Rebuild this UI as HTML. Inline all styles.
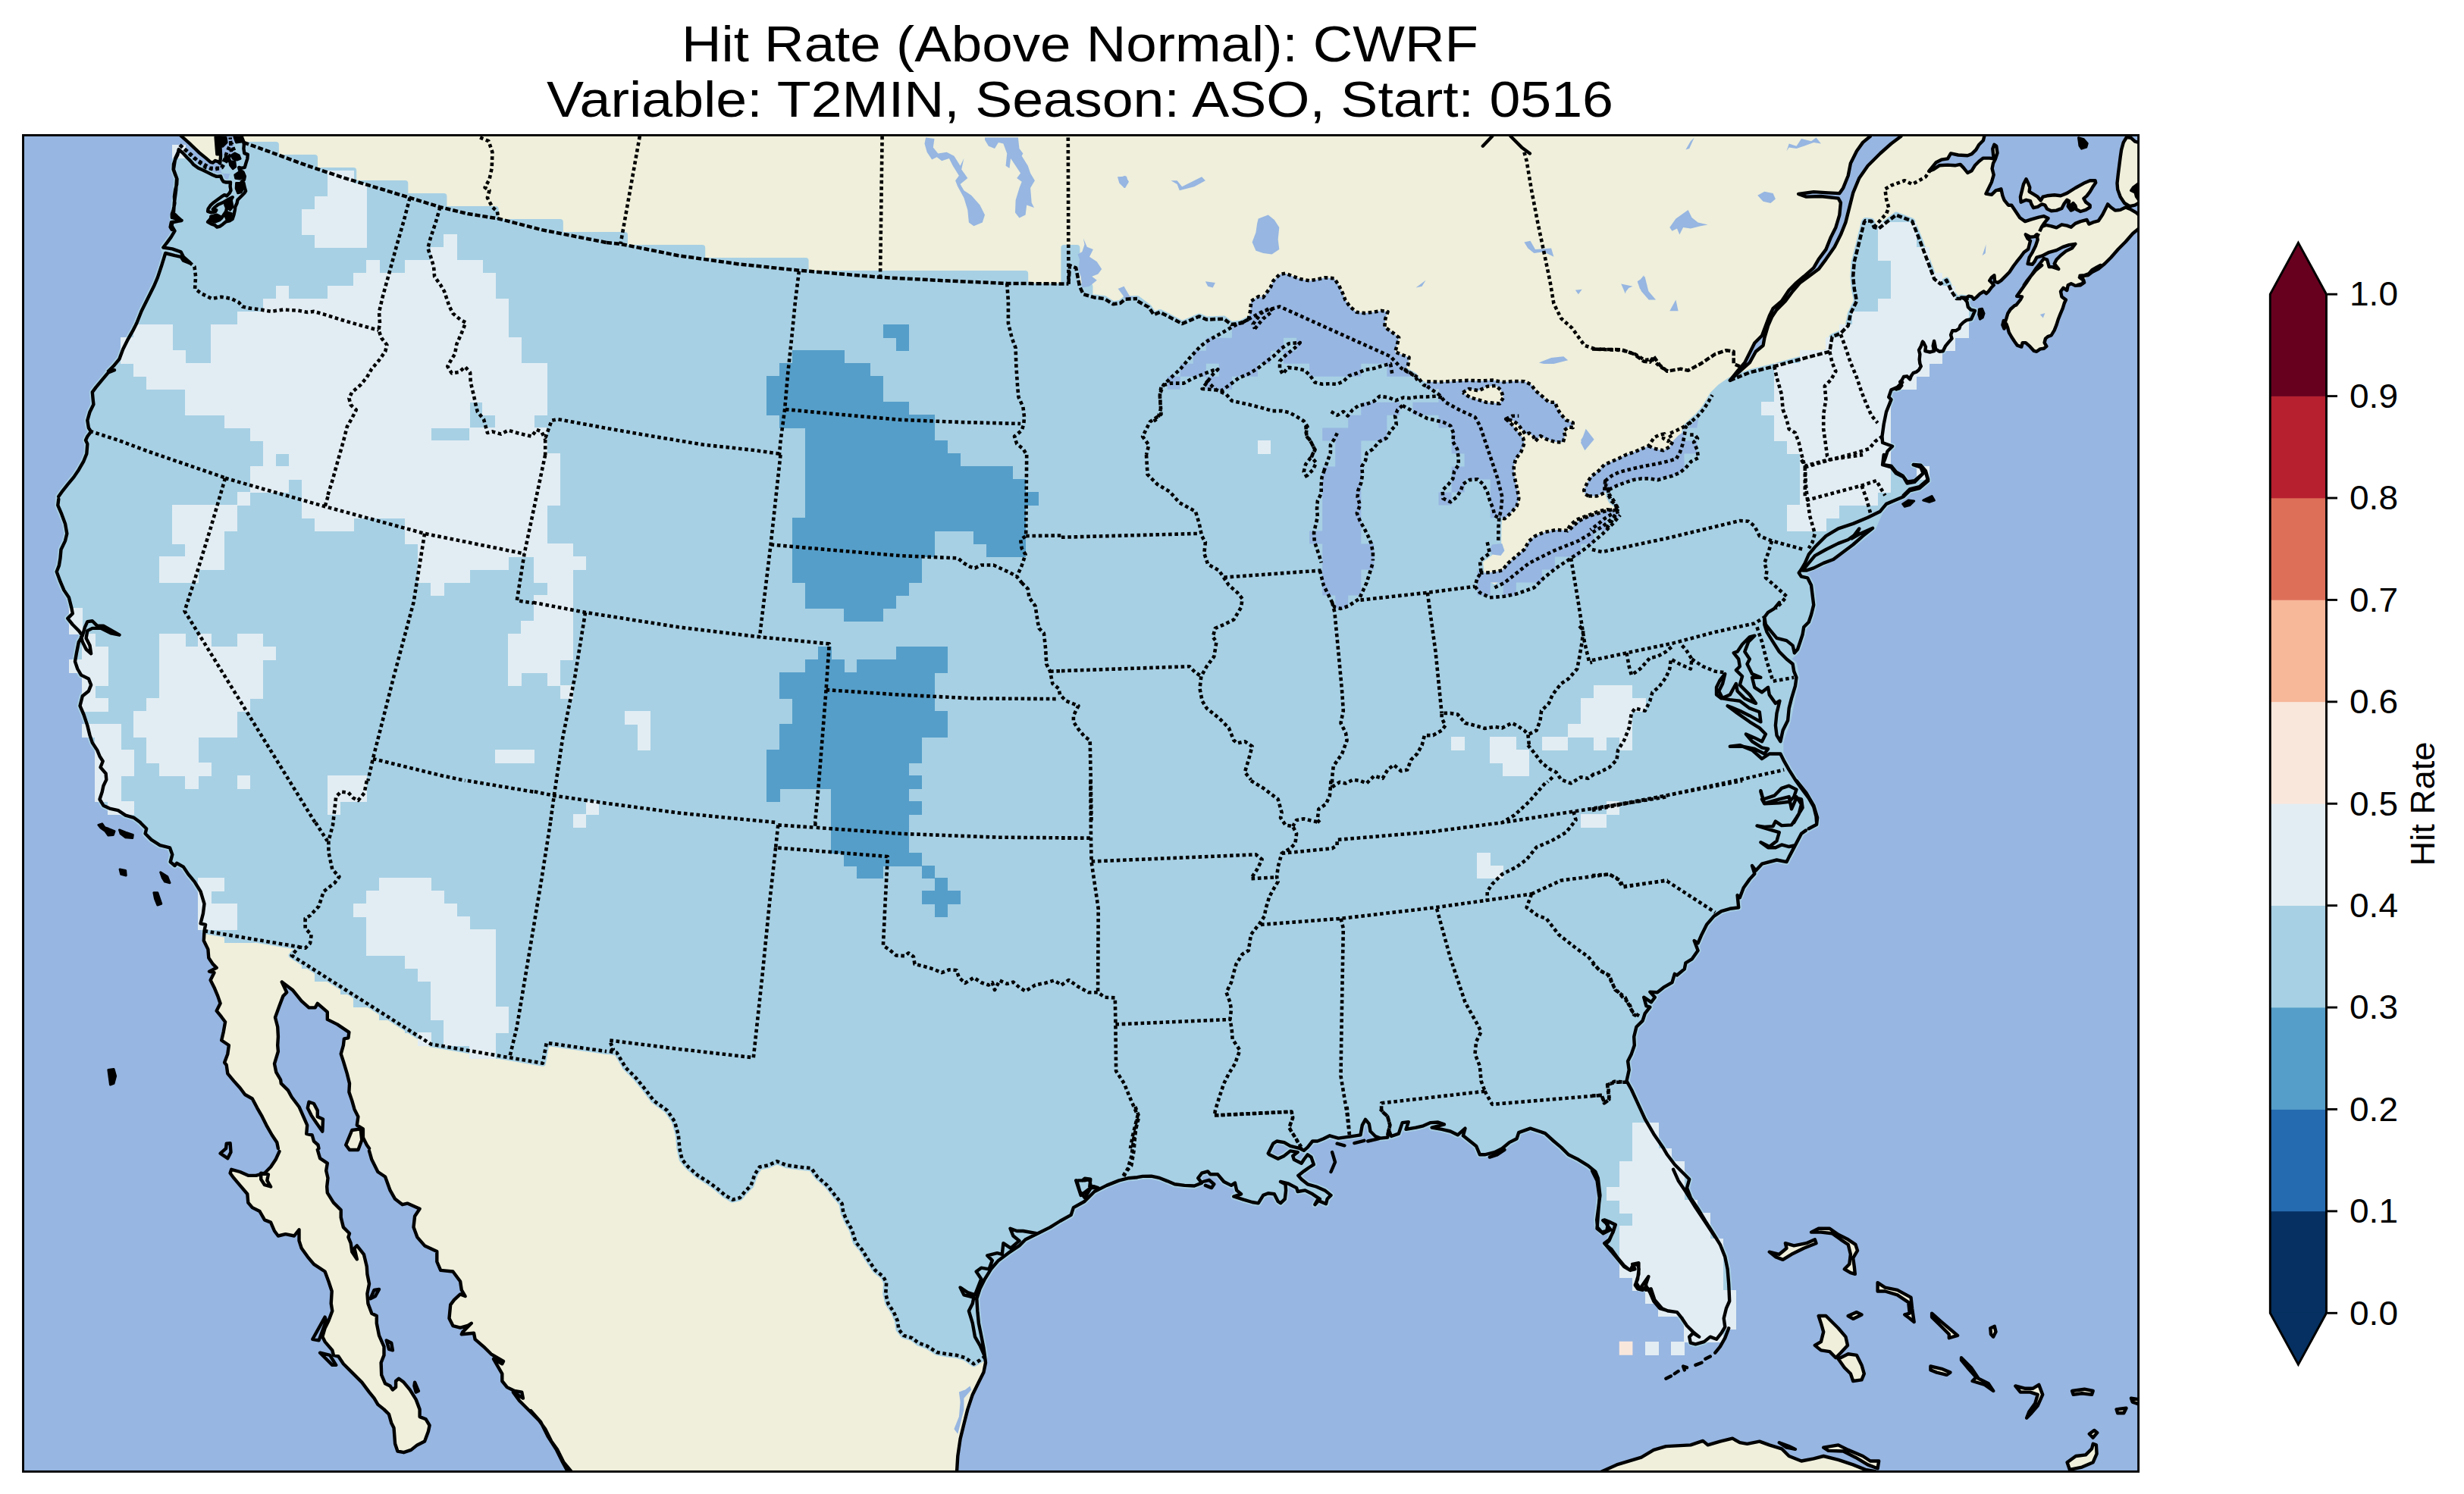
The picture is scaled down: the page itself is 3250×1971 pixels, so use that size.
<!DOCTYPE html>
<html><head><meta charset="utf-8"><title>Hit Rate (Above Normal): CWRF</title>
<style>
html,body{margin:0;padding:0;background:#fff;}
body{width:3250px;height:1971px;position:relative;overflow:hidden;font-family:"Liberation Sans",sans-serif;}
svg text{font-family:"Liberation Sans",sans-serif;fill:#000;}
</style></head><body>
<svg width="3250" height="1971" viewBox="0 0 3250 1971" style="position:absolute;left:0;top:0">
<defs><clipPath id="fr"><rect x="30.5" y="178.4" width="2790.1" height="1763.0"/></clipPath></defs>
<g clip-path="url(#fr)">
<rect x="0" y="0" width="3250" height="1971" fill="#97b6e1"/>
<path fill="#efefdb" fill-rule="evenodd" d="M2672.5 236.2 L2675.2 241.8 L2677.3 247.3 L2676.6 252.8 L2682.1 256.2 L2687.7 259.7 L2691.8 264.5 L2694.6 259.7 L2700.1 258.3 L2709.7 257.2 L2718.0 258.3 L2726.3 254.9 L2737.3 248.0 L2748.4 241.8 L2756.7 238.3 L2763.6 238.3 L2764.2 241.1 L2760.8 245.9 L2756.7 252.8 L2752.5 258.3 L2748.4 261.8 L2751.1 266.6 L2756.7 270.7 L2756.7 273.5 L2751.1 276.9 L2744.2 279.0 L2738.7 276.3 L2737.3 271.4 L2734.6 268.0 L2731.8 270.7 L2734.6 276.3 L2731.8 277.6 L2727.7 272.1 L2729.1 265.2 L2726.3 263.8 L2722.2 269.4 L2719.4 274.9 L2712.5 277.6 L2705.6 278.3 L2700.1 275.6 L2697.3 270.7 L2693.2 269.4 L2687.7 272.8 L2682.1 274.2 L2679.4 269.4 L2678.0 265.2 L2672.5 263.8 L2665.6 266.6 L2664.9 259.7 L2667.0 251.4 L2669.0 243.1Z M2805.0 181.0 L2800.8 187.9 L2798.1 197.6 L2796.7 207.3 L2795.3 218.3 L2793.9 229.3 L2792.5 241.8 L2793.2 250.0 L2796.7 259.7 L2802.2 268.0 L2809.1 272.1 L2816.0 270.7 L2822.9 266.6 L2822.9 188.6 L2816.0 186.6 L2810.5 181.7Z M407.5 1453.7 L414.0 1456.0 L418.8 1465.1 L418.8 1473.2 L426.0 1476.4 L425.3 1492.7 L417.2 1481.3 L410.7 1471.6 L405.8 1461.8Z M456.2 1510.5 L464.3 1491.0 L475.6 1489.4 L477.3 1504.0 L472.4 1517.0 L461.0 1517.0Z M2333.8 1651.6 L2346.8 1654.8 L2356.5 1646.7 L2354.9 1640.2 L2366.2 1643.4 L2382.5 1640.2 L2393.8 1635.3 L2395.5 1640.2 L2379.2 1646.7 L2363.0 1654.8 L2351.6 1661.9 L2341.9 1658.1Z M2389.0 1625.6 L2398.7 1620.7 L2413.3 1620.7 L2424.7 1628.8 L2437.7 1635.3 L2447.4 1641.8 L2450.0 1649.9 L2444.2 1659.7 L2445.8 1671.0 L2446.8 1680.8 L2440.9 1679.2 L2432.8 1674.3 L2439.3 1667.8 L2440.9 1654.8 L2437.7 1641.8 L2427.9 1635.3 L2416.6 1627.2 L2401.9 1625.6Z M2398.7 1736.0 L2408.4 1736.0 L2414.9 1742.5 L2424.7 1752.2 L2434.4 1763.6 L2437.0 1774.9 L2427.9 1784.7 L2421.4 1791.2 L2413.3 1783.1 L2401.9 1781.4 L2393.8 1774.9 L2401.9 1770.1 L2405.2 1757.1 L2401.9 1745.7Z M2424.7 1792.8 L2437.7 1786.3 L2449.0 1787.9 L2455.5 1800.9 L2458.8 1812.3 L2455.5 1820.4 L2444.2 1822.0 L2440.9 1812.3 L2432.8 1804.2Z M2476.6 1692.1 L2486.4 1698.6 L2502.6 1701.9 L2520.5 1711.6 L2522.1 1726.2 L2524.7 1744.1 L2518.8 1739.2 L2512.3 1734.4 L2518.8 1732.7 L2517.2 1718.1 L2502.6 1708.4 L2486.4 1703.5 L2476.6 1703.5Z M2548.1 1732.7 L2561.0 1744.1 L2572.4 1753.8 L2582.1 1761.9 L2570.8 1765.2 L2570.8 1760.3 L2557.8 1747.3 L2548.1 1737.6Z M2587.0 1791.2 L2600.0 1804.2 L2609.7 1818.8 L2622.7 1825.3 L2629.2 1835.0 L2617.9 1826.9 L2601.6 1822.0 L2606.5 1817.1 L2595.1 1804.2 L2587.0 1794.4Z M2546.4 1802.5 L2561.0 1805.8 L2572.4 1810.6 L2567.5 1813.9 L2554.5 1810.6 L2546.4 1807.4Z M2658.4 1828.5 L2671.4 1831.8 L2681.2 1831.8 L2689.3 1826.9 L2694.2 1839.9 L2687.7 1854.5 L2679.5 1864.2 L2673.1 1870.7 L2676.3 1862.6 L2684.4 1851.2 L2687.7 1839.9 L2677.9 1836.6 L2664.9 1836.6Z M2733.1 1835.0 L2749.4 1832.7 L2760.7 1835.0 L2759.1 1839.9 L2746.1 1838.2 L2734.7 1839.9Z M2625.3 1752.2 L2630.8 1749.9 L2632.5 1757.1 L2629.2 1763.6 L2626.0 1760.3Z M2437.7 1736.0 L2449.0 1731.1 L2455.5 1734.4 L2444.2 1739.9Z M2755.8 1891.8 L2762.3 1886.9 L2766.2 1890.2 L2760.7 1896.7Z M2791.6 1859.4 L2804.5 1857.7 L2801.3 1864.2 L2793.2 1864.2Z M2811.0 1844.7 L2822.4 1846.4 L2822.4 1852.9 L2812.7 1849.6Z M2726.6 1929.2 L2738.0 1921.0 L2751.0 1919.4 L2759.1 1911.3 L2760.7 1904.8 L2764.9 1906.4 L2765.6 1917.8 L2760.7 1929.2 L2746.1 1935.6 L2729.9 1938.9Z M2405.2 1909.7 L2424.7 1906.4 L2437.7 1912.9 L2457.1 1921.0 L2466.9 1927.5 L2478.2 1927.5 L2476.6 1937.3 L2463.6 1932.4 L2447.4 1922.7 L2431.2 1914.5 L2411.7 1913.9Z M2346.8 1903.2 L2359.7 1908.1 L2367.9 1911.9 L2356.5 1909.7Z M2106.5 1947.0 L2113.0 1941.2 L2132.5 1932.4 L2164.9 1922.7 L2181.2 1912.9 L2197.4 1908.1 L2229.9 1906.4 L2246.1 1900.9 L2252.6 1906.4 L2268.8 1901.6 L2285.1 1897.7 L2294.8 1903.2 L2304.5 1904.8 L2320.8 1901.6 L2333.8 1906.4 L2350.0 1911.3 L2359.7 1921.0 L2376.0 1927.5 L2392.2 1924.3 L2405.2 1921.0 L2424.7 1925.9 L2444.2 1932.4 L2460.4 1938.9 L2473.4 1941.2 L2489.6 1947.0Z M238.4 178.9 L250.0 189.2 L262.5 201.2 L271.4 208.4 L277.7 213.8 L280.8 214.6 L283.9 212.0 L287.9 213.3 L290.2 215.5 L291.1 205.7 L289.7 178.9Z M318.8 178.9 L319.6 191.2 L312.5 191.2 L312.5 207.9 L295.5 207.9 L295.5 224.9 L312.5 225.4 L306.2 232.5 L304.0 240.5 L298.2 240.5 L294.6 239.6 L291.1 232.5 L285.7 232.9 L280.4 230.7 L274.1 227.6 L267.9 224.5 L261.6 221.8 L255.4 217.3 L251.8 212.9 L246.4 207.5 L241.1 201.7 L235.7 197.2 L236.4 197.6 L231.2 209.0 L228.9 223.6 L233.1 234.9 L232.1 251.2 L229.9 267.4 L228.9 282.0 L227.3 286.9 L239.6 290.8 L227.3 293.4 L226.6 298.2 L230.5 304.7 L225.6 312.9 L220.8 319.4 L215.3 326.5 L218.2 334.0 L212.7 351.8 L207.8 366.4 L202.9 377.8 L194.8 394.0 L186.7 410.3 L180.2 426.5 L175.3 436.2 L168.8 447.6 L162.3 460.6 L157.5 473.6 L149.4 483.3 L142.9 489.8 L151.0 488.2 L142.9 491.4 L134.7 501.2 L126.6 510.9 L121.8 517.4 L122.7 527.1 L123.4 533.6 L118.5 543.4 L115.3 554.7 L116.9 564.5 L120.1 569.4 L115.3 575.8 L113.0 580.7 L115.3 585.6 L114.3 598.6 L110.4 608.3 L103.9 619.7 L97.4 629.4 L89.3 639.2 L82.8 647.3 L77.3 655.1 L77.3 658.4 L76.3 666.6 L81.2 677.9 L86.0 690.9 L88.3 703.9 L86.0 713.6 L80.5 725.0 L79.5 736.4 L77.9 746.1 L74.7 754.2 L79.5 767.2 L84.4 778.6 L90.9 788.3 L94.2 801.3 L95.8 809.4 L89.3 815.9 L95.8 824.0 L103.9 832.1 L108.8 838.6 L103.9 846.8 L101.3 859.7 L99.0 872.7 L102.3 882.5 L107.1 890.6 L116.9 895.5 L120.1 903.6 L116.9 911.7 L108.8 918.2 L105.5 931.2 L110.4 942.5 L115.3 957.1 L118.5 970.1 L121.8 979.9 L128.2 989.6 L131.5 997.7 L135.7 1004.2 L132.5 1012.3 L139.6 1020.5 L140.3 1028.6 L136.4 1036.7 L134.7 1044.8 L131.5 1054.5 L136.4 1062.7 L144.5 1066.6 L155.8 1069.2 L165.6 1075.6 L176.9 1078.9 L185.1 1085.1 L185.1 1085.2 L193.2 1093.3 L191.6 1099.8 L199.7 1107.9 L211.0 1115.1 L224.0 1118.3 L227.3 1127.4 L224.7 1137.1 L230.5 1142.0 L233.1 1138.8 L241.9 1143.6 L248.4 1153.4 L256.5 1163.1 L264.6 1176.1 L269.5 1192.3 L267.9 1205.3 L264.6 1218.3 L271.1 1219.9 L269.5 1228.1 L269.5 1228.1 L268.8 1241.0 L274.4 1252.4 L275.3 1263.8 L280.8 1271.9 L285.7 1276.8 L276.0 1281.6 L282.5 1283.2 L277.6 1293.0 L282.5 1302.7 L287.3 1314.1 L290.6 1323.8 L285.7 1333.6 L292.2 1341.7 L297.1 1348.2 L294.8 1361.2 L292.2 1372.5 L301.9 1379.0 L300.3 1390.4 L296.1 1401.8 L298.7 1405.0 L300.3 1416.4 L308.4 1426.1 L316.6 1435.2 L323.1 1444.0 L332.8 1449.5 L339.3 1461.8 L345.8 1473.2 L352.3 1486.2 L358.8 1497.5 L365.3 1507.3 L366.9 1515.1 L368.5 1519.1 L363.6 1529.8 L357.1 1539.5 L349.0 1547.7 L337.7 1550.9 L327.9 1550.9 L316.6 1546.0 L305.2 1542.8 L303.6 1547.7 L308.4 1554.2 L316.6 1563.9 L326.3 1575.3 L327.3 1586.6 L332.8 1593.1 L342.5 1598.0 L349.0 1609.4 L357.1 1612.6 L362.0 1624.0 L366.9 1630.5 L376.6 1628.2 L388.0 1630.5 L394.5 1622.3 L394.5 1636.9 L397.7 1646.7 L405.8 1658.1 L414.0 1667.8 L428.6 1677.5 L433.4 1690.5 L437.7 1703.5 L436.7 1719.7 L438.3 1729.5 L433.4 1742.5 L428.6 1752.2 L425.3 1763.6 L428.6 1770.1 L438.3 1781.4 L439.9 1787.9 L446.4 1789.5 L452.9 1799.3 L464.3 1810.6 L477.3 1823.6 L487.0 1836.6 L493.5 1844.7 L498.4 1852.9 L506.5 1859.4 L513.0 1865.8 L516.2 1877.2 L519.5 1883.7 L521.1 1904.8 L524.4 1914.5 L532.5 1916.2 L542.2 1912.9 L550.3 1906.4 L560.1 1901.6 L564.9 1888.6 L566.6 1880.5 L561.7 1872.3 L553.6 1869.1 L553.6 1859.4 L548.7 1846.4 L540.6 1833.4 L532.5 1823.6 L526.0 1818.8 L522.1 1822.0 L522.1 1830.1 L517.9 1833.4 L514.6 1828.5 L508.1 1825.3 L503.2 1813.9 L502.6 1797.7 L506.5 1787.9 L506.5 1776.6 L500.0 1761.9 L496.8 1745.7 L496.8 1736.0 L490.3 1732.7 L485.4 1719.7 L484.4 1706.8 L487.0 1693.8 L484.4 1680.8 L483.8 1671.0 L479.9 1654.8 L470.8 1643.4 L467.5 1646.7 L470.8 1661.3 L464.3 1651.6 L462.7 1640.2 L459.4 1632.1 L461.0 1627.2 L452.9 1619.1 L449.7 1606.1 L449.7 1596.4 L439.9 1586.6 L431.8 1573.6 L431.2 1565.5 L432.5 1554.2 L430.2 1544.4 L431.8 1534.7 L422.1 1528.2 L418.8 1516.8 L420.5 1515.1 L419.5 1510.5 L414.0 1505.6 L411.7 1497.5 L404.2 1495.9 L405.2 1484.5 L401.0 1474.8 L394.5 1460.2 L384.7 1447.2 L379.9 1438.4 L370.8 1429.4 L370.1 1424.5 L364.3 1414.7 L362.0 1403.4 L366.9 1387.1 L366.2 1379.0 L366.9 1367.7 L366.2 1354.7 L363.0 1342.3 L368.5 1327.1 L373.4 1314.1 L378.2 1309.2 L371.8 1295.6 L371.8 1295.6 L386.4 1306.6 L397.7 1320.6 L407.5 1329.4 L415.6 1329.4 L418.8 1323.8 L431.8 1335.2 L431.8 1344.9 L444.8 1351.4 L460.4 1361.8 L459.4 1369.3 L453.9 1370.3 L452.9 1379.0 L449.7 1390.4 L452.9 1400.1 L457.8 1416.4 L461.0 1429.4 L460.4 1440.7 L464.3 1452.1 L467.5 1463.4 L472.4 1473.2 L470.8 1484.5 L478.9 1489.4 L478.9 1500.8 L483.8 1510.5 L487.0 1515.1 L487.0 1518.4 L490.3 1529.8 L498.4 1546.0 L508.1 1552.5 L514.6 1570.4 L521.1 1581.8 L530.8 1589.2 L537.3 1587.6 L553.6 1594.7 L547.1 1604.5 L545.5 1619.1 L550.3 1632.1 L560.1 1643.4 L576.3 1650.9 L576.3 1664.5 L581.2 1675.9 L597.4 1677.5 L607.1 1690.5 L608.8 1701.9 L613.6 1710.0 L607.1 1707.4 L599.0 1714.9 L594.2 1721.4 L592.5 1739.2 L597.4 1749.0 L607.1 1751.6 L616.9 1749.0 L621.8 1745.7 L610.4 1757.1 L608.8 1760.3 L625.0 1758.7 L626.6 1766.8 L639.6 1778.2 L647.7 1786.3 L664.0 1796.0 L662.3 1799.3 L651.0 1792.8 L657.5 1804.2 L662.3 1812.3 L662.3 1822.0 L668.8 1830.1 L678.6 1835.0 L688.3 1836.6 L689.9 1844.7 L676.9 1836.6 L685.1 1848.0 L698.1 1861.0 L711.0 1874.0 L719.2 1885.3 L727.3 1901.6 L735.4 1912.9 L743.5 1929.2 L751.6 1938.9 L758.1 1947.0 L758.0 1952.0 L1262.0 1952.0 L1261.7 1947.0 L1263.3 1921.0 L1266.6 1898.3 L1271.4 1878.8 L1276.3 1859.4 L1282.8 1839.9 L1290.9 1823.6 L1297.4 1810.6 L1300.0 1797.7 L1299.0 1789.5 L1299.0 1789.5 L1297.4 1778.2 L1294.2 1761.9 L1290.9 1745.7 L1289.3 1729.5 L1288.3 1713.2 L1292.5 1700.3 L1299.0 1687.3 L1307.1 1674.3 L1316.9 1662.9 L1329.9 1653.2 L1344.5 1643.4 L1352.6 1635.3 L1368.8 1627.2 L1385.1 1619.1 L1398.1 1611.0 L1412.7 1602.9 L1415.9 1593.1 L1430.5 1585.0 L1443.5 1572.0 L1459.7 1563.9 L1476.0 1557.4 L1489.0 1554.2 L1500.0 1553.2 L1500.0 1553.2 L1507.1 1551.9 L1518.5 1551.6 L1529.9 1554.2 L1539.6 1558.1 L1549.4 1562.3 L1562.3 1563.9 L1575.3 1564.5 L1585.1 1560.6 L1580.2 1554.2 L1585.1 1547.7 L1593.2 1545.4 L1596.4 1549.3 L1606.2 1549.3 L1614.3 1559.0 L1624.0 1563.9 L1628.9 1560.6 L1631.2 1570.4 L1637.0 1575.3 L1627.3 1578.5 L1640.3 1582.7 L1651.6 1586.0 L1659.7 1587.3 L1666.2 1576.9 L1672.7 1574.3 L1680.8 1575.3 L1685.7 1585.0 L1689.0 1587.3 L1694.8 1581.8 L1696.1 1570.4 L1695.5 1562.3 L1689.0 1559.0 L1698.7 1561.3 L1710.1 1567.1 L1711.7 1572.0 L1721.4 1570.4 L1731.2 1575.3 L1740.9 1581.8 L1734.4 1589.2 L1737.7 1583.4 L1749.0 1588.2 L1750.6 1581.8 L1755.5 1576.9 L1747.4 1570.4 L1736.0 1565.5 L1724.7 1562.3 L1716.6 1555.8 L1712.3 1550.9 L1719.8 1545.1 L1726.3 1540.5 L1732.8 1536.3 L1729.5 1526.6 L1724.7 1523.3 L1719.8 1529.8 L1716.6 1534.7 L1706.8 1529.8 L1705.2 1524.9 L1711.7 1520.1 L1701.9 1518.4 L1693.8 1524.9 L1685.7 1528.8 L1674.4 1523.3 L1672.7 1521.7 L1679.2 1508.7 L1684.1 1505.5 L1693.8 1507.1 L1701.9 1511.9 L1714.9 1515.2 L1719.8 1517.8 L1724.7 1513.6 L1731.2 1505.5 L1737.7 1505.5 L1745.8 1502.2 L1753.9 1498.3 L1765.3 1501.6 L1779.9 1499.6 L1794.5 1497.3 L1796.8 1484.4 L1801.0 1476.9 L1805.8 1482.7 L1807.5 1492.5 L1814.0 1499.0 L1820.5 1501.6 L1830.2 1500.6 L1831.8 1490.8 L1835.1 1499.0 L1844.8 1495.7 L1849.7 1481.1 L1857.8 1480.1 L1854.5 1489.9 L1867.5 1487.6 L1877.3 1485.3 L1887.0 1481.1 L1896.8 1480.5 L1904.9 1483.4 L1888.6 1487.6 L1901.6 1489.9 L1913.0 1492.5 L1922.7 1497.3 L1932.5 1488.6 L1929.9 1498.3 L1939.0 1505.5 L1947.1 1511.9 L1951.9 1523.3 L1958.4 1523.3 L1971.4 1520.1 L1981.2 1515.2 L1990.9 1507.1 L2000.6 1502.2 L2003.2 1494.1 L2018.5 1488.6 L2038.0 1495.1 L2049.4 1505.5 L2059.1 1513.6 L2068.8 1523.3 L2081.8 1529.8 L2094.8 1537.9 L2104.5 1546.0 L2107.8 1554.2 L2110.4 1576.9 L2108.4 1593.1 L2106.2 1609.4 L2107.1 1619.1 L2112.7 1625.6 L2119.2 1624.0 L2120.8 1615.8 L2114.3 1610.0 L2124.0 1612.6 L2130.5 1615.8 L2127.3 1625.6 L2122.4 1636.9 L2117.5 1641.8 L2125.6 1648.3 L2133.8 1659.7 L2141.9 1669.4 L2150.0 1675.9 L2156.5 1674.3 L2153.2 1667.8 L2161.4 1666.2 L2161.4 1680.8 L2158.1 1692.1 L2163.0 1700.3 L2174.4 1684.0 L2171.1 1693.8 L2171.1 1701.9 L2177.6 1700.3 L2182.5 1714.9 L2192.2 1726.2 L2200.0 1729.5 L2212.0 1731.1 L2218.5 1739.2 L2225.0 1749.0 L2233.1 1757.1 L2241.2 1763.6 L2233.1 1758.7 L2228.2 1763.6 L2229.9 1771.7 L2236.4 1773.3 L2247.7 1770.1 L2255.8 1763.6 L2264.0 1766.8 L2270.5 1758.7 L2275.3 1750.6 L2273.7 1739.2 L2276.9 1726.2 L2281.2 1716.5 L2280.2 1693.8 L2278.6 1674.3 L2275.3 1658.1 L2268.8 1641.8 L2260.7 1628.8 L2249.4 1611.0 L2239.6 1594.7 L2229.9 1580.1 L2225.0 1567.1 L2228.2 1555.8 L2218.5 1546.0 L2208.8 1536.3 L2199.0 1523.3 L2194.2 1515.2 L2194.2 1515.1 L2181.2 1495.9 L2169.8 1476.4 L2160.1 1455.3 L2151.9 1437.5 L2145.5 1426.1 L2148.7 1411.5 L2147.1 1400.1 L2151.9 1390.4 L2155.8 1379.0 L2155.2 1367.7 L2158.4 1354.7 L2166.6 1346.6 L2169.8 1336.8 L2176.3 1328.7 L2171.4 1327.1 L2168.2 1315.7 L2177.9 1322.2 L2182.8 1315.7 L2176.3 1308.6 L2186.0 1309.2 L2194.2 1302.7 L2205.5 1296.2 L2208.8 1284.9 L2212.0 1286.5 L2221.8 1278.4 L2223.4 1270.3 L2231.5 1265.4 L2239.6 1254.0 L2234.7 1241.0 L2239.6 1244.3 L2244.5 1232.9 L2251.0 1219.9 L2260.7 1208.6 L2270.5 1202.1 L2281.8 1198.8 L2293.2 1197.2 L2291.6 1181.0 L2294.8 1184.2 L2299.7 1171.2 L2307.8 1159.9 L2314.3 1152.7 L2311.0 1142.0 L2315.9 1148.5 L2324.0 1139.7 L2343.5 1134.5 L2356.5 1137.1 L2359.7 1130.6 L2367.9 1115.1 L2376.0 1099.8 L2376.0 1099.8 L2385.7 1093.3 L2396.1 1087.8 L2396.1 1085.1 L2395.5 1077.3 L2392.2 1064.3 L2385.7 1052.9 L2376.0 1039.9 L2367.9 1028.6 L2359.7 1015.6 L2353.2 1004.2 L2348.4 994.5 L2333.8 994.5 L2324.0 1001.0 L2311.0 989.6 L2294.8 983.1 L2281.8 984.7 L2298.1 984.7 L2314.3 988.0 L2327.3 994.5 L2332.1 988.0 L2324.0 986.4 L2311.0 978.2 L2302.9 968.5 L2314.3 973.4 L2324.0 978.2 L2328.9 968.5 L2320.8 960.4 L2307.8 952.3 L2291.6 940.9 L2278.6 931.2 L2294.8 937.7 L2307.8 944.2 L2322.4 952.3 L2320.8 939.3 L2307.8 934.4 L2294.8 924.7 L2281.8 923.1 L2272.1 921.4 L2267.2 911.7 L2272.1 901.9 L2275.3 889.0 L2268.8 897.1 L2264.0 906.8 L2264.0 916.6 L2270.5 921.4 L2281.8 916.6 L2289.9 901.9 L2291.6 911.7 L2301.3 921.4 L2315.9 927.9 L2307.8 916.6 L2294.8 903.6 L2298.1 892.2 L2289.9 884.1 L2294.8 879.2 L2293.2 869.5 L2286.7 861.4 L2291.6 859.7 L2298.1 850.0 L2307.8 840.3 L2314.3 838.6 L2306.2 846.8 L2301.3 859.7 L2307.8 869.5 L2304.5 876.0 L2311.0 889.0 L2322.4 893.8 L2311.0 893.8 L2314.3 906.8 L2324.0 913.3 L2332.1 906.8 L2333.8 916.6 L2341.9 927.9 L2347.4 924.7 L2343.5 940.9 L2341.9 957.1 L2343.5 970.1 L2348.4 978.2 L2351.6 963.6 L2358.1 950.6 L2359.7 934.4 L2363.0 921.4 L2367.9 905.2 L2369.5 893.8 L2366.2 885.7 L2364.6 876.0 L2356.5 869.5 L2346.8 859.7 L2338.6 846.8 L2330.5 833.8 L2327.3 824.0 L2327.3 814.3 L2332.1 807.8 L2340.3 802.9 L2346.8 794.8 L2340.3 802.9 L2332.1 807.8 L2327.3 814.3 L2328.9 824.0 L2335.4 832.1 L2343.5 841.9 L2356.5 845.1 L2364.6 851.6 L2366.9 861.4 L2371.1 856.5 L2374.4 846.8 L2377.6 837.0 L2379.2 827.3 L2385.7 820.8 L2389.0 811.0 L2392.2 798.1 L2390.6 785.1 L2389.0 772.1 L2384.1 762.3 L2376.0 760.7 L2372.7 755.8 L2376.0 751.0 L2380.8 742.9 L2385.7 731.5 L2393.8 721.8 L2408.4 707.1 L2424.7 697.4 L2444.2 690.9 L2463.6 682.8 L2479.9 674.7 L2488.0 664.9 L2499.4 660.1 L2510.7 655.2 L2510.7 655.1 L2518.8 647.3 L2531.8 644.0 L2543.2 634.3 L2539.9 622.9 L2533.4 614.8 L2523.7 613.2 L2533.4 616.4 L2536.7 624.5 L2525.3 635.9 L2515.6 637.5 L2510.7 629.4 L2501.0 624.5 L2494.5 616.4 L2483.1 613.2 L2486.4 605.1 L2489.6 595.3 L2496.1 588.8 L2483.1 584.0 L2482.5 575.8 L2484.7 559.6 L2488.0 543.4 L2494.5 527.1 L2491.2 523.9 L2494.5 514.2 L2502.6 510.9 L2509.1 504.4 L2501.4 513.5 L2505.5 512.1 L2508.3 508.7 L2506.2 503.9 L2508.3 501.8 L2511.0 497.0 L2515.2 496.3 L2519.3 500.4 L2520.7 496.3 L2523.5 492.1 L2527.6 490.7 L2531.0 488.0 L2533.8 483.2 L2532.4 479.7 L2531.7 474.2 L2532.4 467.3 L2531.0 461.8 L2533.8 456.9 L2535.9 450.7 L2537.3 452.1 L2540.0 457.6 L2539.3 463.2 L2545.5 464.5 L2551.1 463.2 L2549.7 456.3 L2551.1 450.0 L2552.4 456.3 L2553.1 460.4 L2558.0 463.8 L2562.8 463.2 L2566.2 456.3 L2569.7 452.1 L2574.5 446.6 L2573.1 441.8 L2575.2 436.2 L2580.0 436.2 L2584.2 433.5 L2585.6 429.3 L2589.7 425.2 L2593.8 422.4 L2600.0 421.1 L2602.8 414.9 L2604.9 410.0 L2599.4 408.6 L2595.9 405.2 L2594.5 398.3 L2591.1 394.2 L2586.9 392.5 L2593.8 392.8 L2596.6 390.7 L2600.7 391.4 L2603.5 394.8 L2606.9 392.1 L2611.8 387.3 L2616.6 384.5 L2620.0 387.3 L2622.8 384.5 L2626.9 379.0 L2629.7 376.2 L2629.7 376.2 L2626.9 372.8 L2624.2 370.1 L2626.9 365.9 L2630.4 363.2 L2631.1 371.5 L2635.2 372.8 L2639.4 370.1 L2644.9 364.6 L2650.4 359.0 L2655.9 350.8 L2660.1 345.2 L2665.6 338.3 L2669.7 332.8 L2675.2 328.7 L2676.6 323.2 L2678.0 317.6 L2674.6 314.9 L2671.8 309.4 L2678.0 312.8 L2683.5 312.1 L2686.3 309.4 L2687.7 316.3 L2684.9 324.5 L2680.8 332.8 L2676.6 339.7 L2674.6 348.0 L2680.8 348.7 L2683.5 345.2 L2686.3 339.7 L2693.2 337.7 L2702.8 332.8 L2712.5 330.1 L2720.8 325.9 L2729.1 323.2 L2737.3 321.8 L2733.2 327.3 L2724.9 331.4 L2718.0 337.0 L2712.5 342.5 L2709.7 348.0 L2715.3 354.9 L2707.0 352.1 L2702.8 352.1 L2700.1 342.5 L2695.9 341.1 L2690.4 348.0 L2684.9 354.9 L2679.4 363.2 L2673.9 370.1 L2669.7 376.2 L2693.2 350.0 L2684.9 356.9 L2678.0 365.2 L2672.5 373.5 L2665.6 383.1 L2660.1 390.7 L2667.0 391.4 L2664.9 395.5 L2659.4 402.4 L2657.3 403.1 L2651.8 408.0 L2648.3 413.5 L2646.3 420.4 L2644.9 424.5 L2642.8 423.1 L2641.4 428.7 L2643.5 433.5 L2646.3 427.3 L2648.3 432.8 L2649.7 438.3 L2653.2 444.5 L2657.3 450.7 L2660.8 455.6 L2666.3 457.6 L2667.7 452.1 L2671.8 452.1 L2677.3 456.9 L2682.8 462.9 L2686.3 463.8 L2691.1 460.4 L2695.9 459.7 L2699.4 456.9 L2696.6 452.1 L2698.0 446.6 L2701.5 443.8 L2705.6 442.5 L2709.7 435.6 L2712.5 428.7 L2714.6 421.8 L2717.3 414.9 L2720.8 406.6 L2722.9 399.7 L2724.9 395.5 L2719.4 391.4 L2718.0 384.5 L2721.5 379.7 L2726.3 383.1 L2727.7 376.2 L2731.8 374.1 L2737.3 376.9 L2744.2 376.2 L2749.1 372.8 L2747.0 366.6 L2743.5 363.8 L2749.8 363.1 L2755.3 361.0 L2759.4 356.2 L2766.3 352.1 L2770.5 350.0 L2740.1 376.2 L2747.0 374.2 L2748.4 370.1 L2742.9 365.9 L2745.6 364.6 L2753.9 363.2 L2759.4 359.0 L2767.7 354.9 L2776.0 348.0 L2784.3 339.7 L2793.9 328.7 L2803.6 319.0 L2813.2 308.0 L2821.5 301.1 L2832.0 301.1 L2832.0 283.8 L2821.5 283.8 L2817.4 280.4 L2810.5 276.3 L2803.6 273.5 L2796.7 276.9 L2789.8 277.6 L2784.3 273.5 L2780.1 269.4 L2777.4 274.9 L2773.2 283.2 L2767.7 291.4 L2762.2 292.8 L2755.3 295.6 L2752.5 290.0 L2744.2 292.1 L2737.3 294.9 L2731.8 299.7 L2726.3 297.6 L2719.4 296.3 L2712.5 300.4 L2705.6 298.3 L2698.7 296.9 L2693.2 299.0 L2695.9 294.9 L2701.5 288.0 L2695.9 285.2 L2689.0 286.6 L2679.4 289.4 L2671.1 292.1 L2664.2 287.3 L2658.7 279.0 L2653.2 270.7 L2649.0 270.7 L2643.5 263.8 L2641.4 258.3 L2639.4 249.3 L2632.5 251.4 L2626.9 256.9 L2619.4 255.6 L2622.8 248.7 L2626.9 240.4 L2629.7 230.7 L2627.6 222.4 L2629.0 215.5 L2631.8 210.0 L2634.5 201.7 L2633.2 192.8 L2630.4 190.7 L2628.3 196.2 L2629.0 203.1 L2629.7 209.3 L2624.2 208.6 L2615.9 208.6 L2610.4 212.8 L2604.9 218.3 L2600.7 225.2 L2595.2 228.0 L2589.7 221.1 L2585.6 216.9 L2578.7 218.3 L2569.0 217.6 L2558.0 218.3 L2549.7 223.8 L2544.2 225.9 L2553.8 214.2 L2560.7 210.7 L2569.0 209.3 L2573.1 202.4 L2582.8 204.5 L2595.2 205.2 L2600.7 203.1 L2606.3 197.6 L2610.4 190.7 L2615.9 185.2 L2617.3 179.7 L2617.3 170.0 L2507.5 170.0 L2507.5 179.7 L2494.5 189.5 L2479.9 202.5 L2463.6 218.7 L2452.3 234.9 L2444.2 254.4 L2439.3 273.9 L2434.4 293.4 L2427.9 309.6 L2419.8 325.8 L2408.4 342.1 L2398.7 355.1 L2385.7 364.8 L2374.4 372.9 L2364.6 384.3 L2354.9 397.3 L2343.5 408.6 L2337.0 418.4 L2332.1 429.7 L2327.3 446.0 L2325.6 455.7 L2315.9 463.8 L2307.8 478.4 L2294.8 489.8 L2281.8 501.8 L2281.8 501.8 L2291.6 489.8 L2301.3 478.4 L2307.8 465.5 L2314.3 452.5 L2324.0 442.7 L2328.9 429.7 L2333.8 416.8 L2338.6 407.0 L2350.0 397.3 L2359.7 382.7 L2369.5 372.9 L2379.2 364.8 L2392.2 353.4 L2398.7 342.1 L2408.4 329.1 L2414.9 312.9 L2421.4 299.9 L2426.3 283.6 L2427.9 267.4 L2424.7 261.6 L2401.9 259.0 L2382.5 259.6 L2372.1 256.0 L2392.2 253.1 L2411.7 254.4 L2426.3 255.1 L2431.2 247.9 L2437.7 231.7 L2440.9 215.5 L2449.0 199.2 L2457.1 187.9 L2466.9 179.7 L2466.9 170.0 L318.8 170.0Z"/>

<path fill="#a7d0e4" stroke="#a7d0e4" stroke-width="8" stroke-linejoin="round" d="M2314.3 838.6 L2366.2 876.0 L2369.5 893.8 L2358.1 950.6 L2348.4 978.2 L2348.4 994.5 L2324.0 1001.0 L2281.8 984.7 L2264.0 916.6 L2268.8 887.3 L2294.8 859.7Z M2327.3 814.3 L2346.8 794.8 L2366.9 861.4 L2356.5 869.5 L2327.3 824.0Z M2376.0 760.7 L2377.6 752.6 L2385.7 731.5 L2408.4 707.1 L2444.2 690.9 L2479.9 674.7 L2470.1 696.8 L2444.2 718.5 L2405.2 742.9 L2382.5 752.6Z M319.6 191.2 L312.8 191.1 L363.9 191.1 L363.9 208.1 L415.0 208.1 L415.0 225.0 L466.2 225.0 L466.2 242.0 L534.3 242.0 L534.3 259.0 L585.4 259.0 L585.4 276.0 L653.6 276.0 L653.6 293.0 L738.8 293.0 L738.8 309.9 L824.0 309.9 L824.0 326.9 L926.2 326.9 L926.2 343.9 L1062.6 343.9 L1062.6 360.9 L1352.2 360.9 L1352.2 377.9 L1403.4 377.9 L1403.4 326.9 L1420.4 326.9 L1420.4 377.9 L1437.4 377.9 L1437.4 394.8 L1454.5 394.8 L1443.5 392.4 L1456.5 394.0 L1467.9 401.2 L1477.6 399.9 L1484.1 394.7 L1500.0 394.0 L1515.3 405.4 L1521.8 415.1 L1529.9 411.9 L1542.9 418.4 L1559.1 427.1 L1572.1 421.6 L1581.8 417.4 L1591.6 421.6 L1614.3 420.6 L1624.0 428.1 L1640.3 425.8 L1639.3 425.2 L1666.1 410.6 L1688.0 404.5 L1834.1 470.3 L1848.7 486.1 L1865.8 495.8 L1870.6 503.1 L1882.3 509.7 L1898.6 521.1 L1906.7 530.8 L1924.5 540.6 L1945.6 550.3 L1952.1 561.7 L1958.6 581.2 L1966.8 605.5 L1974.9 629.9 L1981.4 655.8 L1979.7 673.7 L1977.3 683.4 L1976.5 694.8 L1976.2 715.9 L1976.3 710.4 L1971.4 716.9 L1964.9 729.9 L1951.9 739.6 L1953.6 755.8 L1958.4 768.8 L1971.4 775.3 L1984.4 768.8 L2016.9 742.9 L2049.4 726.6 L2081.8 713.6 L2114.3 694.2 L2133.8 677.9 L2134.3 671.6 L2131.8 666.1 L2125.7 661.2 L2122.1 653.9 L2120.9 645.4 L2117.2 634.5 L2125.7 627.8 L2135.5 622.9 L2147.7 619.8 L2157.4 617.4 L2168.4 615.0 L2179.3 613.1 L2190.3 610.7 L2201.2 608.3 L2211.0 605.2 L2215.9 596.7 L2219.5 585.7 L2221.9 573.6 L2223.2 563.8 L2230.5 556.5 L2239.0 549.2 L2247.5 539.5 L2253.6 529.7 L2258.5 521.2 L2268.8 510.9 L2281.8 501.8 L2307.8 491.4 L2340.3 483.3 L2376.0 473.6 L2413.3 463.8 L2416.6 444.4 L2427.9 439.5 L2437.7 429.7 L2440.9 413.5 L2449.0 397.3 L2445.8 381.0 L2444.2 364.8 L2445.8 345.3 L2452.3 319.4 L2458.8 293.4 L2460.4 291.1 L2468.5 291.8 L2471.8 299.9 L2478.2 301.5 L2488.0 293.4 L2501.0 283.6 L2522.1 291.8 L2531.8 316.1 L2541.6 342.1 L2551.3 368.1 L2559.4 374.5 L2567.5 369.7 L2574.0 384.3 L2580.5 394.0 L2590.3 394.0 L2596.8 394.0 L2586.9 392.5 L2591.1 394.2 L2594.5 398.3 L2595.9 405.2 L2599.4 408.6 L2604.9 410.0 L2602.8 414.9 L2600.0 421.1 L2593.8 422.4 L2589.7 425.2 L2585.6 429.3 L2584.2 433.5 L2580.0 436.2 L2575.2 436.2 L2573.1 441.8 L2574.5 446.6 L2569.7 452.1 L2566.2 456.3 L2562.8 463.2 L2558.0 463.8 L2553.1 460.4 L2552.4 456.3 L2551.1 450.0 L2549.7 456.3 L2551.1 463.2 L2545.5 464.5 L2539.3 463.2 L2540.0 457.6 L2537.3 452.1 L2535.9 450.7 L2533.8 456.9 L2531.0 461.8 L2532.4 467.3 L2531.7 474.2 L2532.4 479.7 L2533.8 483.2 L2531.0 488.0 L2527.6 490.7 L2523.5 492.1 L2520.7 496.3 L2519.3 500.4 L2515.2 496.3 L2511.0 497.0 L2508.3 501.8 L2506.2 503.9 L2508.3 508.7 L2505.5 512.1 L2501.4 513.5 L2509.1 504.4 L2502.6 510.9 L2494.5 514.2 L2491.2 523.9 L2494.5 527.1 L2488.0 543.4 L2484.7 559.6 L2482.5 575.8 L2483.1 584.0 L2496.1 588.8 L2489.6 595.3 L2486.4 605.1 L2483.1 613.2 L2494.5 616.4 L2501.0 624.5 L2510.7 629.4 L2515.6 637.5 L2525.3 635.9 L2536.7 624.5 L2533.4 616.4 L2523.7 613.2 L2533.4 614.8 L2539.9 622.9 L2543.2 634.3 L2531.8 644.0 L2518.8 647.3 L2510.7 655.1 L2510.7 655.2 L2499.4 660.1 L2488.0 664.9 L2479.9 674.7 L2463.6 682.8 L2444.2 690.9 L2424.7 697.4 L2408.4 707.1 L2393.8 721.8 L2385.7 731.5 L2380.8 742.9 L2376.0 751.0 L2372.7 755.8 L2376.0 760.7 L2384.1 762.3 L2389.0 772.1 L2390.6 785.1 L2392.2 798.1 L2389.0 811.0 L2385.7 820.8 L2379.2 827.3 L2377.6 837.0 L2374.4 846.8 L2371.1 856.5 L2366.9 861.4 L2364.6 851.6 L2356.5 845.1 L2343.5 841.9 L2335.4 832.1 L2328.9 824.0 L2327.3 814.3 L2332.1 807.8 L2340.3 802.9 L2346.8 794.8 L2340.3 802.9 L2332.1 807.8 L2327.3 814.3 L2327.3 824.0 L2330.5 833.8 L2338.6 846.8 L2346.8 859.7 L2356.5 869.5 L2364.6 876.0 L2366.2 885.7 L2369.5 893.8 L2367.9 905.2 L2363.0 921.4 L2359.7 934.4 L2358.1 950.6 L2351.6 963.6 L2348.4 978.2 L2343.5 970.1 L2341.9 957.1 L2343.5 940.9 L2347.4 924.7 L2341.9 927.9 L2333.8 916.6 L2332.1 906.8 L2324.0 913.3 L2314.3 906.8 L2311.0 893.8 L2322.4 893.8 L2311.0 889.0 L2304.5 876.0 L2307.8 869.5 L2301.3 859.7 L2306.2 846.8 L2314.3 838.6 L2307.8 840.3 L2298.1 850.0 L2291.6 859.7 L2286.7 861.4 L2293.2 869.5 L2294.8 879.2 L2289.9 884.1 L2298.1 892.2 L2294.8 903.6 L2307.8 916.6 L2315.9 927.9 L2301.3 921.4 L2291.6 911.7 L2289.9 901.9 L2281.8 916.6 L2270.5 921.4 L2264.0 916.6 L2264.0 906.8 L2268.8 897.1 L2275.3 889.0 L2272.1 901.9 L2267.2 911.7 L2272.1 921.4 L2281.8 923.1 L2294.8 924.7 L2307.8 934.4 L2320.8 939.3 L2322.4 952.3 L2307.8 944.2 L2294.8 937.7 L2278.6 931.2 L2291.6 940.9 L2307.8 952.3 L2320.8 960.4 L2328.9 968.5 L2324.0 978.2 L2314.3 973.4 L2302.9 968.5 L2311.0 978.2 L2324.0 986.4 L2332.1 988.0 L2327.3 994.5 L2314.3 988.0 L2298.1 984.7 L2281.8 984.7 L2294.8 983.1 L2311.0 989.6 L2324.0 1001.0 L2333.8 994.5 L2348.4 994.5 L2353.2 1004.2 L2359.7 1015.6 L2367.9 1028.6 L2376.0 1039.9 L2385.7 1052.9 L2392.2 1064.3 L2395.5 1077.3 L2396.1 1085.1 L2396.1 1087.8 L2385.7 1093.3 L2376.0 1099.8 L2376.0 1099.8 L2367.9 1115.1 L2359.7 1130.6 L2356.5 1137.1 L2343.5 1134.5 L2324.0 1139.7 L2315.9 1148.5 L2311.0 1142.0 L2314.3 1152.7 L2307.8 1159.9 L2299.7 1171.2 L2294.8 1184.2 L2291.6 1181.0 L2293.2 1197.2 L2281.8 1198.8 L2270.5 1202.1 L2260.7 1208.6 L2251.0 1219.9 L2244.5 1232.9 L2239.6 1244.3 L2234.7 1241.0 L2239.6 1254.0 L2231.5 1265.4 L2223.4 1270.3 L2221.8 1278.4 L2212.0 1286.5 L2208.8 1284.9 L2205.5 1296.2 L2194.2 1302.7 L2186.0 1309.2 L2176.3 1308.6 L2182.8 1315.7 L2177.9 1322.2 L2168.2 1315.7 L2171.4 1327.1 L2176.3 1328.7 L2169.8 1336.8 L2166.6 1346.6 L2158.4 1354.7 L2155.2 1367.7 L2155.8 1379.0 L2151.9 1390.4 L2147.1 1400.1 L2148.7 1411.5 L2145.5 1426.1 L2151.9 1437.5 L2160.1 1455.3 L2169.8 1476.4 L2181.2 1495.9 L2194.2 1515.1 L2194.2 1515.2 L2199.0 1523.3 L2208.8 1536.3 L2218.5 1546.0 L2228.2 1555.8 L2225.0 1567.1 L2229.9 1580.1 L2239.6 1594.7 L2249.4 1611.0 L2260.7 1628.8 L2268.8 1641.8 L2275.3 1658.1 L2278.6 1674.3 L2280.2 1693.8 L2281.2 1716.5 L2276.9 1726.2 L2273.7 1739.2 L2275.3 1750.6 L2270.5 1758.7 L2264.0 1766.8 L2255.8 1763.6 L2247.7 1770.1 L2236.4 1773.3 L2229.9 1771.7 L2228.2 1763.6 L2233.1 1758.7 L2241.2 1763.6 L2233.1 1757.1 L2225.0 1749.0 L2218.5 1739.2 L2212.0 1731.1 L2200.0 1729.5 L2192.2 1726.2 L2182.5 1714.9 L2177.6 1700.3 L2171.1 1701.9 L2171.1 1693.8 L2174.4 1684.0 L2163.0 1700.3 L2158.1 1692.1 L2161.4 1680.8 L2161.4 1666.2 L2153.2 1667.8 L2156.5 1674.3 L2150.0 1675.9 L2141.9 1669.4 L2133.8 1659.7 L2125.6 1648.3 L2117.5 1641.8 L2122.4 1636.9 L2127.3 1625.6 L2130.5 1615.8 L2124.0 1612.6 L2114.3 1610.0 L2120.8 1615.8 L2119.2 1624.0 L2112.7 1625.6 L2107.1 1619.1 L2106.2 1609.4 L2108.4 1593.1 L2110.4 1576.9 L2107.8 1554.2 L2104.5 1546.0 L2094.8 1537.9 L2081.8 1529.8 L2068.8 1523.3 L2059.1 1513.6 L2049.4 1505.5 L2038.0 1495.1 L2018.5 1488.6 L2003.2 1494.1 L2000.6 1502.2 L1990.9 1507.1 L1981.2 1515.2 L1971.4 1520.1 L1958.4 1523.3 L1951.9 1523.3 L1947.1 1511.9 L1939.0 1505.5 L1929.9 1498.3 L1932.5 1488.6 L1922.7 1497.3 L1913.0 1492.5 L1901.6 1489.9 L1888.6 1487.6 L1904.9 1483.4 L1896.8 1480.5 L1887.0 1481.1 L1877.3 1485.3 L1867.5 1487.6 L1854.5 1489.9 L1857.8 1480.1 L1849.7 1481.1 L1844.8 1495.7 L1835.1 1499.0 L1831.8 1490.8 L1830.2 1500.6 L1820.5 1501.6 L1814.0 1499.0 L1807.5 1492.5 L1805.8 1482.7 L1801.0 1476.9 L1796.8 1484.4 L1794.5 1497.3 L1779.9 1499.6 L1765.3 1501.6 L1753.9 1498.3 L1745.8 1502.2 L1737.7 1505.5 L1731.2 1505.5 L1724.7 1513.6 L1719.8 1517.8 L1714.9 1515.2 L1701.9 1511.9 L1693.8 1507.1 L1684.1 1505.5 L1679.2 1508.7 L1672.7 1521.7 L1674.4 1523.3 L1685.7 1528.8 L1693.8 1524.9 L1701.9 1518.4 L1711.7 1520.1 L1705.2 1524.9 L1706.8 1529.8 L1716.6 1534.7 L1719.8 1529.8 L1724.7 1523.3 L1729.5 1526.6 L1732.8 1536.3 L1726.3 1540.5 L1719.8 1545.1 L1712.3 1550.9 L1716.6 1555.8 L1724.7 1562.3 L1736.0 1565.5 L1747.4 1570.4 L1755.5 1576.9 L1750.6 1581.8 L1749.0 1588.2 L1737.7 1583.4 L1734.4 1589.2 L1740.9 1581.8 L1731.2 1575.3 L1721.4 1570.4 L1711.7 1572.0 L1710.1 1567.1 L1698.7 1561.3 L1689.0 1559.0 L1695.5 1562.3 L1696.1 1570.4 L1694.8 1581.8 L1689.0 1587.3 L1685.7 1585.0 L1680.8 1575.3 L1672.7 1574.3 L1666.2 1576.9 L1659.7 1587.3 L1651.6 1586.0 L1640.3 1582.7 L1627.3 1578.5 L1637.0 1575.3 L1631.2 1570.4 L1628.9 1560.6 L1624.0 1563.9 L1614.3 1559.0 L1606.2 1549.3 L1596.4 1549.3 L1593.2 1545.4 L1585.1 1547.7 L1580.2 1554.2 L1585.1 1560.6 L1575.3 1564.5 L1562.3 1563.9 L1549.4 1562.3 L1539.6 1558.1 L1529.9 1554.2 L1518.5 1551.6 L1507.1 1551.9 L1500.0 1553.2 L1500.0 1553.2 L1489.0 1554.2 L1476.0 1557.4 L1459.7 1563.9 L1443.5 1572.0 L1430.5 1585.0 L1415.9 1593.1 L1412.7 1602.9 L1398.1 1611.0 L1385.1 1619.1 L1368.8 1627.2 L1352.6 1635.3 L1344.5 1643.4 L1329.9 1653.2 L1316.9 1662.9 L1307.1 1674.3 L1299.0 1687.3 L1292.5 1700.3 L1288.3 1713.2 L1289.3 1729.5 L1290.9 1745.7 L1294.2 1761.9 L1297.4 1778.2 L1299.0 1789.5 L1299.0 1789.5 L1292.5 1794.4 L1284.4 1799.3 L1273.1 1791.2 L1261.7 1787.9 L1248.7 1786.3 L1235.7 1784.0 L1222.7 1775.6 L1211.4 1771.7 L1203.2 1765.2 L1191.9 1761.9 L1185.4 1753.8 L1183.8 1742.5 L1178.9 1731.1 L1171.4 1719.7 L1168.2 1706.8 L1169.2 1692.1 L1164.9 1684.0 L1154.5 1675.9 L1144.8 1661.3 L1136.7 1648.3 L1128.6 1638.6 L1123.7 1622.3 L1117.2 1611.0 L1112.3 1599.6 L1110.7 1588.2 L1102.6 1578.5 L1091.2 1563.9 L1078.2 1552.5 L1070.1 1541.2 L1053.9 1539.5 L1037.7 1537.3 L1024.7 1532.1 L1013.3 1537.3 L1001.9 1539.5 L995.5 1549.3 L990.6 1563.9 L982.5 1572.0 L976.0 1580.1 L966.2 1582.7 L956.5 1576.9 L945.1 1567.1 L933.8 1559.0 L920.8 1550.9 L907.8 1539.5 L899.7 1529.8 L896.4 1515.2 L896.4 1515.1 L894.8 1497.5 L889.9 1479.7 L880.2 1465.1 L862.3 1452.1 L852.6 1439.1 L839.6 1422.9 L825.0 1408.2 L813.6 1388.8 L803.9 1387.1 L800.0 1387.1 L720.8 1375.8 L715.9 1402.7 L672.1 1395.3 L568.2 1377.4 L384.7 1260.5 L394.5 1249.2 L269.5 1228.1 L269.5 1228.1 L271.1 1219.9 L264.6 1218.3 L267.9 1205.3 L269.5 1192.3 L264.6 1176.1 L256.5 1163.1 L248.4 1153.4 L241.9 1143.6 L233.1 1138.8 L230.5 1142.0 L224.7 1137.1 L227.3 1127.4 L224.0 1118.3 L211.0 1115.1 L199.7 1107.9 L191.6 1099.8 L193.2 1093.3 L185.1 1085.2 L185.1 1085.1 L176.9 1078.9 L165.6 1075.6 L155.8 1069.2 L144.5 1066.6 L136.4 1062.7 L131.5 1054.5 L134.7 1044.8 L136.4 1036.7 L140.3 1028.6 L139.6 1020.5 L132.5 1012.3 L135.7 1004.2 L131.5 997.7 L128.2 989.6 L121.8 979.9 L118.5 970.1 L115.3 957.1 L110.4 942.5 L105.5 931.2 L108.8 918.2 L116.9 911.7 L120.1 903.6 L116.9 895.5 L107.1 890.6 L102.3 882.5 L99.0 872.7 L101.3 859.7 L103.9 846.8 L108.8 838.6 L103.9 832.1 L95.8 824.0 L89.3 815.9 L95.8 809.4 L94.2 801.3 L90.9 788.3 L84.4 778.6 L79.5 767.2 L74.7 754.2 L77.9 746.1 L79.5 736.4 L80.5 725.0 L86.0 713.6 L88.3 703.9 L86.0 690.9 L81.2 677.9 L76.3 666.6 L77.3 658.4 L77.3 655.1 L82.8 647.3 L89.3 639.2 L97.4 629.4 L103.9 619.7 L110.4 608.3 L114.3 598.6 L115.3 585.6 L113.0 580.7 L115.3 575.8 L120.1 569.4 L116.9 564.5 L115.3 554.7 L118.5 543.4 L123.4 533.6 L122.7 527.1 L121.8 517.4 L126.6 510.9 L134.7 501.2 L142.9 491.4 L151.0 488.2 L142.9 489.8 L149.4 483.3 L157.5 473.6 L162.3 460.6 L168.8 447.6 L175.3 436.2 L180.2 426.5 L186.7 410.3 L194.8 394.0 L202.9 377.8 L207.8 366.4 L212.7 351.8 L218.2 334.0 L215.3 326.5 L220.8 319.4 L225.6 312.9 L230.5 304.7 L226.6 298.2 L227.3 293.4 L239.6 290.8 L227.3 286.9 L228.9 282.0 L229.9 267.4 L232.1 251.2 L233.1 234.9 L228.9 223.6 L231.2 209.0 L236.4 197.6 L235.7 197.2 L241.1 201.7 L246.4 207.5 L251.8 212.9 L255.4 217.3 L261.6 221.8 L267.9 224.5 L274.1 227.6 L280.4 230.7 L285.7 232.9 L291.1 232.5 L294.6 239.6 L298.2 240.5 L304.0 240.5 L306.2 232.5 L312.5 225.4 L295.5 224.9 L295.5 207.9 L312.5 207.9 L312.5 191.2Z"/>

<path fill="#a7d0e4" shape-rendering="crispEdges" d="M295.5 1226.4H398.3V1244.3H295.5Z M397.7 1260.3H432.4V1278.3H397.7Z M414.7 1277.3H466.5V1295.3H414.7Z M448.8 1294.3H483.5V1312.3H448.8Z M465.9 1311.3H517.6V1329.2H465.9Z M499.9 1328.2H551.7V1346.2H499.9Z M534.0 1345.2H568.7V1363.2H534.0Z M551.1 1362.2H585.7V1380.2H551.1Z M619.2 1379.2H688.0V1397.2H619.2Z"/>

<path fill="#e2edf3" shape-rendering="crispEdges" d="M431.8 224.5H466.5V242.5H431.8Z M431.8 241.5H483.5V259.5H431.8Z M414.7 258.5H483.5V276.5H414.7Z M397.7 275.5H483.5V293.5H397.7Z M397.7 292.5H483.5V310.4H397.7Z M414.7 309.4H483.5V327.4H414.7Z M585.1 309.4H602.8V327.4H585.1Z M568.1 326.4H602.8V344.4H568.1Z M482.9 343.4H500.5V361.4H482.9Z M534.0 343.4H636.9V361.4H534.0Z M465.9 360.4H653.9V378.4H465.9Z M363.6 377.4H381.3V395.3H363.6Z M431.8 377.4H653.9V395.3H431.8Z M346.6 394.3H670.9V412.3H346.6Z M312.5 411.3H670.9V429.3H312.5Z M176.2 428.3H227.9V446.3H176.2Z M278.4 428.3H670.9V446.3H278.4Z M159.1 445.3H227.9V463.3H159.1Z M278.4 445.3H688.0V463.3H278.4Z M159.1 462.3H244.9V480.2H159.1Z M278.4 462.3H688.0V480.2H278.4Z M176.2 479.2H722.1V497.2H176.2Z M193.2 496.2H722.1V514.2H193.2Z M244.3 513.2H722.1V531.2H244.3Z M244.3 530.2H619.8V548.2H244.3Z M636.3 530.2H722.1V548.2H636.3Z M295.5 547.2H619.8V565.1H295.5Z M653.3 547.2H705.0V565.1H653.3Z M329.5 564.1H568.7V582.1H329.5Z M619.2 564.1H722.1V582.1H619.2Z M346.6 581.1H722.1V599.1H346.6Z M346.6 598.1H364.2V616.1H346.6Z M380.7 598.1H739.1V616.1H380.7Z M329.5 615.1H739.1V633.1H329.5Z M329.5 632.1H381.3V650.0H329.5Z M397.7 632.1H739.1V650.0H397.7Z M2476.6 292.5H2528.3V310.4H2476.6Z M2476.6 309.4H2528.3V327.4H2476.6Z M2476.6 326.4H2545.3V344.4H2476.6Z M2493.6 343.4H2545.3V361.4H2493.6Z M2493.6 360.4H2562.4V378.4H2493.6Z M2493.6 377.4H2579.4V395.3H2493.6Z M2476.6 394.3H2596.5V412.3H2476.6Z M2442.5 411.3H2596.5V429.3H2442.5Z M2425.5 428.3H2596.5V446.3H2425.5Z M2408.4 445.3H2579.4V463.3H2408.4Z M2374.3 462.3H2562.4V480.2H2374.3Z M2340.3 479.2H2545.3V497.2H2340.3Z M2340.3 496.2H2528.3V514.2H2340.3Z M2340.3 513.2H2494.2V531.2H2340.3Z M2323.2 530.2H2494.2V548.2H2323.2Z M2340.3 547.2H2494.2V565.1H2340.3Z M2340.3 564.1H2494.2V582.1H2340.3Z M2357.3 581.1H2494.2V599.1H2357.3Z M2374.3 598.1H2494.2V616.1H2374.3Z M312.5 649.0H330.1V667.0H312.5Z M397.7 649.0H739.1V667.0H397.7Z M227.3 666.0H313.1V684.0H227.3Z M397.7 666.0H722.1V684.0H397.7Z M227.3 683.0H313.1V701.0H227.3Z M414.7 683.0H466.5V701.0H414.7Z M534.0 683.0H722.1V701.0H534.0Z M227.3 700.0H296.1V718.0H227.3Z M534.0 700.0H722.1V718.0H534.0Z M244.3 717.0H296.1V734.9H244.3Z M551.1 717.0H756.1V734.9H551.1Z M210.3 733.9H296.1V751.9H210.3Z M551.1 733.9H670.9V751.9H551.1Z M704.4 733.9H773.2V751.9H704.4Z M210.3 750.9H262.0V768.9H210.3Z M551.1 750.9H619.8V768.9H551.1Z M704.4 750.9H756.1V768.9H704.4Z M568.1 767.9H585.7V785.9H568.1Z M721.5 767.9H756.1V785.9H721.5Z M704.4 784.9H756.1V802.9H704.4Z M91.0 801.9H108.6V819.8H91.0Z M704.4 801.9H756.1V819.8H704.4Z M91.0 818.8H108.6V836.8H91.0Z M687.4 818.8H756.1V836.8H687.4Z M108.0 835.8H125.7V853.8H108.0Z M210.3 835.8H244.9V853.8H210.3Z M261.4 835.8H279.0V853.8H261.4Z M312.5 835.8H347.2V853.8H312.5Z M670.3 835.8H756.1V853.8H670.3Z M108.0 852.8H142.7V870.8H108.0Z M210.3 852.8H364.2V870.8H210.3Z M670.3 852.8H756.1V870.8H670.3Z M91.0 869.8H142.7V887.8H91.0Z M210.3 869.8H347.2V887.8H210.3Z M670.3 869.8H739.1V887.8H670.3Z M108.0 886.8H142.7V904.7H108.0Z M210.3 886.8H347.2V904.7H210.3Z M670.3 886.8H688.0V904.7H670.3Z M721.5 886.8H739.1V904.7H721.5Z M108.0 903.7H125.7V921.7H108.0Z M210.3 903.7H347.2V921.7H210.3Z M738.5 903.7H756.1V921.7H738.5Z M108.0 920.7H142.7V938.7H108.0Z M193.2 920.7H330.1V938.7H193.2Z M176.2 937.7H313.1V955.7H176.2Z M108.0 954.7H159.7V972.7H108.0Z M176.2 954.7H313.1V972.7H176.2Z M125.1 971.7H159.7V989.6H125.1Z M193.2 971.7H262.0V989.6H193.2Z M125.1 988.6H176.8V1006.6H125.1Z M193.2 988.6H262.0V1006.6H193.2Z M653.3 988.6H705.0V1006.6H653.3Z M125.1 1005.6H176.8V1023.6H125.1Z M210.3 1005.6H279.0V1023.6H210.3Z M125.1 1022.6H159.7V1040.6H125.1Z M244.3 1022.6H262.0V1040.6H244.3Z M312.5 1022.6H330.1V1040.6H312.5Z M431.8 1022.6H483.5V1040.6H431.8Z M125.1 1039.6H159.7V1057.6H125.1Z M431.8 1039.6H483.5V1057.6H431.8Z M142.1 1056.6H176.8V1074.5H142.1Z M431.8 1056.6H449.4V1074.5H431.8Z M772.6 1056.6H790.2V1074.5H772.6Z M823.7 937.7H858.4V955.7H823.7Z M840.7 954.7H858.4V972.7H840.7Z M840.7 971.7H858.4V989.6H840.7Z M1914.3 971.7H1931.9V989.6H1914.3Z M1965.4 971.7H2000.1V989.6H1965.4Z M2033.5 971.7H2068.2V989.6H2033.5Z M2101.7 971.7H2119.3V989.6H2101.7Z M2135.8 971.7H2153.4V989.6H2135.8Z M1965.4 988.6H2017.1V1006.6H1965.4Z M1982.4 1005.6H2017.1V1023.6H1982.4Z M2101.7 903.7H2153.4V921.7H2101.7Z M2084.7 920.7H2170.5V938.7H2084.7Z M2084.7 937.7H2153.4V955.7H2084.7Z M2067.6 954.7H2153.4V972.7H2067.6Z M2118.7 1056.6H2136.4V1074.5H2118.7Z M2084.7 1073.5H2119.3V1091.5H2084.7Z M2374.3 615.1H2494.2V633.1H2374.3Z M2527.7 615.1H2545.3V633.1H2527.7Z M2374.3 632.1H2494.2V650.0H2374.3Z M2374.3 649.0H2477.2V667.0H2374.3Z M2357.3 666.0H2426.1V684.0H2357.3Z M2357.3 683.0H2409.0V701.0H2357.3Z M755.5 1073.5H773.2V1091.5H755.5Z M261.4 1158.4H296.1V1176.4H261.4Z M499.9 1158.4H568.7V1176.4H499.9Z M261.4 1175.4H279.0V1193.4H261.4Z M482.9 1175.4H585.7V1193.4H482.9Z M261.4 1192.4H313.1V1210.4H261.4Z M465.9 1192.4H602.8V1210.4H465.9Z M261.4 1209.4H313.1V1227.4H261.4Z M482.9 1209.4H619.8V1227.4H482.9Z M482.9 1226.4H653.9V1244.3H482.9Z M482.9 1243.3H653.9V1261.3H482.9Z M534.0 1260.3H653.9V1278.3H534.0Z M551.1 1277.3H653.9V1295.3H551.1Z M568.1 1294.3H653.9V1312.3H568.1Z M568.1 1311.3H653.9V1329.2H568.1Z M568.1 1328.2H670.9V1346.2H568.1Z M585.1 1345.2H670.9V1363.2H585.1Z M551.1 1362.2H568.7V1380.2H551.1Z M585.1 1362.2H653.9V1380.2H585.1Z M619.2 1379.2H653.9V1397.2H619.2Z M1948.3 1124.5H1966.0V1142.5H1948.3Z M1948.3 1141.5H1983.0V1159.4H1948.3Z M2169.9 1769.7H2187.5V1787.7H2169.9Z M2203.9 1769.7H2221.6V1787.7H2203.9Z M2152.8 1481.1H2187.5V1499.0H2152.8Z M2152.8 1498.0H2187.5V1516.0H2152.8Z M2152.8 1515.0H2204.5V1533.0H2152.8Z M2135.8 1532.0H2221.6V1550.0H2135.8Z M2135.8 1549.0H2221.6V1567.0H2135.8Z M2118.7 1566.0H2221.6V1583.9H2118.7Z M2135.8 1582.9H2238.6V1600.9H2135.8Z M2152.8 1599.9H2255.7V1617.9H2152.8Z M2135.8 1616.9H2255.7V1634.9H2135.8Z M2135.8 1633.9H2272.7V1651.9H2135.8Z M2135.8 1650.9H2272.7V1668.8H2135.8Z M2135.8 1667.8H2272.7V1685.8H2135.8Z M2152.8 1684.8H2272.7V1702.8H2152.8Z M2169.9 1701.8H2289.7V1719.8H2169.9Z M2186.9 1718.8H2289.7V1736.8H2186.9Z M2221.0 1735.8H2289.7V1753.7H2221.0Z M2221.0 1752.7H2272.7V1770.7H2221.0Z M1658.7 581.1H1676.3V599.1H1658.7Z M227.3 190.6H244.9V208.6H227.3Z"/>

<path fill="#559ec9" shape-rendering="crispEdges" d="M1164.5 428.3H1199.2V446.3H1164.5Z M1181.5 445.3H1199.2V463.3H1181.5Z M1045.2 462.3H1114.0V480.2H1045.2Z M1028.2 479.2H1148.1V497.2H1028.2Z M1011.1 496.2H1165.1V514.2H1011.1Z M1011.1 513.2H1165.1V531.2H1011.1Z M1011.1 530.2H1199.2V548.2H1011.1Z M1028.2 547.2H1233.3V565.1H1028.2Z M1062.3 564.1H1233.3V582.1H1062.3Z M1062.3 581.1H1250.3V599.1H1062.3Z M1062.3 598.1H1267.3V616.1H1062.3Z M1062.3 615.1H1335.5V633.1H1062.3Z M1062.3 632.1H1352.5V650.0H1062.3Z M1062.3 649.0H1369.6V667.0H1062.3Z M1062.3 666.0H1352.5V684.0H1062.3Z M1045.2 683.0H1352.5V701.0H1045.2Z M1045.2 700.0H1233.3V718.0H1045.2Z M1283.8 700.0H1352.5V718.0H1283.8Z M1045.2 717.0H1233.3V734.9H1045.2Z M1300.8 717.0H1352.5V734.9H1300.8Z M1045.2 733.9H1216.2V751.9H1045.2Z M1045.2 750.9H1216.2V768.9H1045.2Z M1062.3 767.9H1199.2V785.9H1062.3Z M1062.3 784.9H1182.1V802.9H1062.3Z M1113.4 801.9H1165.1V819.8H1113.4Z M1079.3 852.8H1096.9V870.8H1079.3Z M1181.5 852.8H1250.3V870.8H1181.5Z M1062.3 869.8H1114.0V887.8H1062.3Z M1130.4 869.8H1250.3V887.8H1130.4Z M1028.2 886.8H1233.3V904.7H1028.2Z M1028.2 903.7H1233.3V921.7H1028.2Z M1045.2 920.7H1233.3V938.7H1045.2Z M1045.2 937.7H1250.3V955.7H1045.2Z M1028.2 954.7H1250.3V972.7H1028.2Z M1028.2 971.7H1216.2V989.6H1028.2Z M1011.1 988.6H1216.2V1006.6H1011.1Z M1011.1 1005.6H1199.2V1023.6H1011.1Z M1011.1 1022.6H1216.2V1040.6H1011.1Z M1011.1 1039.6H1028.8V1057.6H1011.1Z M1096.3 1039.6H1199.2V1057.6H1096.3Z M1096.3 1056.6H1216.2V1074.5H1096.3Z M1096.3 1073.5H1199.2V1091.5H1096.3Z M1096.3 1090.5H1199.2V1108.5H1096.3Z M1096.3 1107.5H1199.2V1125.5H1096.3Z M1113.4 1124.5H1216.2V1142.5H1113.4Z M1130.4 1141.5H1165.1V1159.4H1130.4Z M1215.6 1141.5H1233.3V1159.4H1215.6Z M1232.7 1158.4H1250.3V1176.4H1232.7Z M1215.6 1175.4H1267.3V1193.4H1215.6Z M1232.7 1192.4H1250.3V1210.4H1232.7Z"/>

<path fill="#fae7dc" d="M2135.8 1769.7H2153.4V1787.7H2135.8Z"/>

<path fill="#97b6e1" d="M1221.1 181.4 L1232.5 183.0 L1230.8 194.4 L1237.3 202.5 L1248.7 200.8 L1258.4 205.7 L1266.6 218.7 L1271.4 209.0 L1268.2 223.6 L1276.3 234.9 L1266.6 243.1 L1271.4 251.2 L1281.2 257.7 L1292.5 270.6 L1299.0 283.6 L1295.8 293.4 L1284.4 298.2 L1277.9 293.4 L1276.3 277.1 L1271.4 260.9 L1263.3 246.3 L1260.1 238.2 L1264.9 231.7 L1256.8 218.7 L1251.9 209.0 L1242.2 212.2 L1235.7 207.3 L1229.2 210.6 L1222.7 200.8 L1219.5 189.5Z M1299.0 181.4 L1342.9 181.4 L1344.5 196.0 L1349.4 202.5 L1347.7 205.7 L1355.8 218.7 L1359.1 228.4 L1364.9 238.2 L1359.1 247.9 L1360.7 267.4 L1364.0 273.9 L1354.2 270.6 L1352.6 283.6 L1344.5 287.5 L1339.0 280.4 L1339.6 264.2 L1344.5 247.9 L1347.7 239.8 L1341.2 234.9 L1346.1 228.4 L1339.6 218.7 L1333.1 209.0 L1331.5 221.9 L1326.6 218.7 L1328.2 202.5 L1323.4 189.5 L1316.9 187.9 L1312.0 196.0 L1303.9 192.7 L1299.0 184.6Z M1474.4 234.9 L1484.1 231.7 L1489.0 239.8 L1484.1 247.9 L1477.6 243.1Z M1428.9 314.5 L1433.8 325.8 L1441.9 329.1 L1437.0 338.8 L1446.8 345.3 L1453.2 355.1 L1448.4 361.6 L1440.3 364.8 L1446.8 369.7 L1437.0 377.8 L1427.3 379.4 L1425.6 364.8 L1422.4 355.1 L1424.0 342.1 L1421.4 335.6 L1427.3 332.3 L1430.5 322.6Z M1474.4 381.0 L1482.5 377.8 L1487.3 385.9 L1492.2 394.0 L1482.5 394.0 L1480.8 385.9Z M2318.2 257.7 L2327.3 252.8 L2338.6 255.1 L2341.9 262.5 L2335.4 268.1 L2325.6 265.8Z M2202.3 299.9 L2210.4 288.5 L2226.6 277.1 L2231.5 286.9 L2239.6 293.4 L2252.6 296.6 L2242.9 298.2 L2229.9 301.5 L2220.1 299.9 L2215.3 309.6 L2212.0 301.5 L2205.5 304.7Z M2138.3 374.5 L2153.6 377.8 L2145.5 381.0 L2143.8 387.5Z M2160.1 372.9 L2168.2 363.2 L2169.8 377.8 L2176.3 390.8 L2184.4 395.6 L2174.7 395.6 L2164.9 384.3Z M2202.3 410.3 L2210.4 395.6 L2213.6 410.3Z M2223.4 197.6 L2229.9 186.2 L2234.7 181.4 L2228.2 196.0Z M2356.5 199.2 L2359.7 189.5 L2369.5 192.7 L2376.0 183.0 L2389.0 186.2 L2395.5 181.4 L2401.9 189.5 L2392.2 187.9 L2379.2 192.7 L2369.5 196.0 L2359.7 194.4Z M2614.6 337.2 L2619.5 322.6 L2618.8 334.0Z M2690.9 415.1 L2697.4 412.9 L2694.8 419.4Z M1951.9 755.8 L1966.6 755.2 L1981.2 752.6 L1989.3 742.9 L2000.6 733.1 L2010.4 725.0 L2016.9 713.6 L2025.0 707.1 L2036.4 702.3 L2052.6 699.0 L2068.8 700.0 L2081.8 687.7 L2094.8 681.2 L2114.3 675.3 L2130.5 671.4 L2136.4 675.3 L2136.1 683.5 L2119.0 683.5 L2119.0 700.5 L2102.0 700.5 L2102.0 717.5 L2085.0 717.5 L2085.0 734.4 L2050.9 734.4 L2050.9 751.4 L2033.8 751.4 L2033.8 768.4 L1999.8 768.4 L1999.8 785.4 L1982.7 785.4 L1982.7 768.4 L1965.7 768.4 L1965.7 785.4 L1948.6 785.4 L1948.6 751.4Z M1968.2 718.5 L1981.2 716.9 L1984.4 726.6 L1979.5 733.1 L1968.2 731.5 L1964.9 725.0Z M2090.4 651.5 L2089.2 646.6 L2094.1 635.7 L2099.0 628.4 L2108.7 621.1 L2116.0 613.1 L2125.7 608.9 L2135.5 604.6 L2145.2 599.8 L2156.2 596.1 L2165.9 591.8 L2174.5 588.2 L2181.8 591.8 L2193.9 594.3 L2202.5 589.4 L2207.3 580.9 L2213.4 574.8 L2221.9 568.7 L2230.5 560.2 L2240.2 551.7 L2238.3 564.6 L2221.3 564.6 L2221.3 581.6 L2238.3 581.6 L2238.3 598.6 L2221.3 598.6 L2221.9 618.6 L2215.9 623.5 L2206.1 627.8 L2196.4 630.2 L2186.6 633.2 L2175.7 631.4 L2164.7 631.4 L2153.8 633.2 L2142.8 636.9 L2133.1 640.5 L2123.3 645.4 L2116.0 650.3 L2106.3 654.5 L2095.3 654.5Z M2085.0 583.9 L2091.7 565.7 L2102.6 579.7 L2090.4 594.3Z M1264.9 1836.6 L1273.1 1833.4 L1279.5 1828.5 L1281.2 1833.4 L1271.4 1844.7 L1271.4 1859.4 L1266.6 1878.8 L1263.3 1891.8 L1258.4 1885.3 L1264.9 1869.1 L1266.6 1849.6Z M1539.7 513.7 L1539.7 496.7 L1556.7 496.7 L1556.7 479.7 L1573.8 479.7 L1573.8 462.8 L1590.8 462.8 L1590.8 445.8 L1624.9 445.8 L1624.9 428.8 L1646.6 421.6 L1649.1 410.6 L1650.3 397.2 L1660.0 391.1 L1666.1 392.4 L1675.8 379.0 L1679.5 370.4 L1688.0 361.9 L1695.3 360.7 L1705.1 364.4 L1714.8 368.0 L1727.0 370.4 L1736.7 368.7 L1747.7 366.3 L1759.9 367.3 L1765.9 376.5 L1770.8 386.3 L1774.5 396.0 L1780.5 404.5 L1789.1 411.8 L1800.0 413.1 L1811.0 411.8 L1821.9 409.9 L1830.5 411.3 L1827.3 420.4 L1826.3 431.3 L1836.6 438.6 L1845.1 445.2 L1842.6 455.7 L1840.2 464.2 L1848.7 467.8 L1858.5 471.5 L1857.3 481.2 L1853.6 488.5 L1860.9 492.2 L1863.4 496.7 L1829.4 496.7 L1829.4 479.7 L1795.3 479.7 L1795.3 496.7 L1727.1 496.7 L1727.1 479.7 L1693.0 479.7 L1693.0 462.8 L1710.1 462.8 L1710.1 445.8 L1693.0 445.8 L1693.0 462.8 L1676.0 462.8 L1676.0 479.7 L1659.0 479.7 L1659.0 496.7 L1624.9 496.7 L1624.9 513.7 L1590.8 513.7 L1590.8 496.7 L1607.8 496.7 L1607.8 479.7 L1590.8 479.7 L1590.8 496.7 L1556.7 496.7 L1556.7 513.7Z M1795.3 530.7 L1846.4 530.7 L1846.4 547.7 L1829.4 547.7 L1829.4 581.6 L1795.3 581.6 L1795.3 717.5 L1812.3 717.5 L1812.3 751.4 L1795.3 751.4 L1795.3 785.4 L1778.2 785.4 L1778.2 802.4 L1761.2 802.4 L1761.2 785.4 L1744.2 785.4 L1744.2 717.5 L1727.1 717.5 L1727.1 700.5 L1744.2 700.5 L1744.2 615.6 L1761.2 615.6 L1761.2 581.6 L1744.2 581.6 L1744.2 564.6 L1778.2 564.6 L1778.2 547.7 L1795.3 547.7Z M1863.4 530.7 L1897.5 530.7 L1897.5 513.7 L1880.5 513.7 L1882.3 503.2 L1898.6 504.5 L1914.8 503.2 L1935.9 502.3 L1955.4 502.6 L1968.4 501.6 L1983.0 504.1 L1996.0 502.9 L2010.6 503.2 L2019.5 507.3 L2025.2 515.4 L2034.1 522.7 L2043.1 530.8 L2051.2 530.8 L2054.4 539.8 L2059.3 547.1 L2065.8 554.4 L2074.7 557.6 L2074.7 564.1 L2069.0 563.3 L2062.5 568.2 L2064.2 574.7 L2061.7 583.6 L2051.2 583.1 L2039.8 579.5 L2031.7 575.0 L2025.2 582.0 L2022.8 576.3 L2017.1 571.4 L2012.2 573.1 L2007.3 566.6 L2002.5 560.1 L1996.0 555.2 L1986.2 552.8 L1994.4 560.1 L2002.5 569.8 L2009.0 577.9 L2010.6 584.4 L2006.5 595.8 L1999.2 605.5 L1996.8 615.3 L1996.8 625.0 L1999.2 636.4 L2001.7 647.7 L2003.3 657.5 L2000.8 667.2 L1994.4 675.3 L1984.6 684.3 L1978.1 682.6 L1965.7 683.5 L1965.7 632.6 L1931.6 632.6 L1931.6 649.5 L1914.6 649.5 L1914.6 666.5 L1897.5 666.5 L1897.5 649.5 L1914.6 649.5 L1914.6 615.6 L1931.6 615.6 L1931.6 598.6 L1914.6 598.6 L1914.6 564.6 L1897.5 564.6 L1897.5 547.7 L1863.4 547.7Z M1659.7 288.5 L1672.7 283.6 L1680.8 290.1 L1687.3 299.9 L1685.7 316.1 L1687.3 329.1 L1677.6 335.6 L1666.2 334.0 L1656.5 330.7 L1651.6 319.4 L1656.5 306.4 L1658.1 295.0Z M1474.0 233.3 L1486.0 232.7 L1488.3 241.4 L1482.8 247.9 L1476.3 241.4Z M1544.5 238.2 L1552.6 238.2 L1559.1 246.3 L1585.1 233.3 L1589.9 238.2 L1575.3 246.3 L1555.8 251.2 L1552.6 243.1Z M2010.4 319.4 L2018.5 317.7 L2025.0 329.1 L2046.1 327.5 L2049.4 338.8 L2036.4 332.3 L2023.4 334.0 L2015.3 327.5Z M2029.9 478.4 L2046.1 471.9 L2062.3 470.3 L2068.2 475.2 L2049.4 480.1 L2036.4 480.1Z M2093.2 567.7 L2101.3 579.1 L2091.6 592.1 L2085.1 580.7Z M1867.5 379.4 L1880.5 369.7 L1875.6 377.8Z M2159.7 371.3 L2169.5 364.8 L2174.4 384.3 L2184.1 395.6 L2172.7 390.8 L2163.0 381.0Z M2138.6 374.5 L2150.0 377.8 L2143.5 385.9Z M2077.9 382.7 L2086.7 381.7 L2081.8 388.2Z M1589.9 371.3 L1602.9 372.9 L1599.7 379.4 L1593.2 377.8Z M1474.7 381.0 L1482.8 377.8 L1487.7 390.8 L1503.9 392.4 L1484.4 394.0Z"/>

<path fill="#efefdb" d="M1929.4 517.9 L1937.5 513.0 L1950.5 515.4 L1961.9 509.7 L1973.2 508.9 L1979.7 514.6 L1983.0 524.4 L1978.1 532.5 L1970.0 531.7 L1960.3 530.8 L1950.5 527.6 L1939.2 524.4Z"/>

<path fill="none" stroke="#000" stroke-width="4.6" stroke-dasharray="4.6 3.7" stroke-linejoin="round" d="M250.0 346.3 L256.5 351.8 L258.1 364.8 L257.1 381.0 L266.2 387.5 L279.2 394.0 L292.2 391.8 L305.2 394.0 L314.9 398.9 L319.8 404.4 L327.9 406.4 L344.2 408.6 L357.1 410.9 L373.4 408.6 L392.9 409.6 L405.8 411.9 L414.0 410.9 L428.6 415.1 L454.5 423.2 L477.3 429.7 L499.4 435.6 M540.6 260.9 L532.5 291.8 L522.7 325.8 L513.0 361.6 L504.9 390.8 L500.0 411.9 L501.0 426.5 L499.4 435.6 L503.2 446.0 L510.4 455.1 L508.1 463.8 L500.0 475.2 L490.3 486.6 L483.8 497.9 L475.6 507.7 L464.3 517.4 L460.4 525.5 L462.7 534.3 L469.8 540.8 L464.3 551.5 L457.8 562.9 L452.9 582.3 L446.4 605.1 L438.3 634.3 L431.8 655.1 M580.5 273.2 L574.7 293.4 L568.2 312.9 L564.3 327.5 L568.2 338.8 L572.1 351.8 L573.1 364.8 L581.2 376.2 L586.0 384.3 L592.5 403.8 L597.4 413.5 L607.1 421.6 L614.3 425.5 L608.8 439.5 L602.3 454.1 L600.0 467.1 L595.8 473.6 L590.3 483.3 L595.8 492.4 L605.5 490.8 L613.6 484.0 L620.1 491.4 L620.8 504.4 L625.0 522.3 L628.2 536.9 L629.9 543.4 L638.0 553.1 L642.9 571.0 L649.4 569.4 L660.7 572.6 L670.5 567.7 L685.1 571.9 L701.3 575.8 L707.8 566.8 L714.3 569.4 L719.2 579.7 M633.1 181.4 L644.5 186.2 L649.4 200.8 L648.7 221.9 L645.5 236.6 L639.6 247.3 L645.5 251.2 L642.9 260.9 L649.4 273.2 L655.8 278.8 L657.5 288.5 M237.0 191.1 L256.5 209.0 L277.6 221.9 L292.2 221.9 L305.2 202.5 L303.6 181.4 M843.8 179.7 L818.5 321.9 M1163.6 179.7 L1161.0 365.8 M1408.8 181.4 L1409.4 374.5 M1053.9 357.7 L1049.0 397.3 L1044.2 446.0 L1039.3 491.4 L1035.1 540.1 L1029.5 582.3 L1027.9 599.9 M719.5 577.5 L727.6 554.7 L735.7 553.1 L797.4 564.5 L862.3 575.8 L927.3 586.6 L992.2 593.7 L1027.9 598.6 M1036.0 540.1 L1105.8 546.6 L1187.0 553.8 L1268.2 557.0 L1346.1 559.0 M1328.2 373.9 L1329.9 397.3 L1329.9 426.5 L1334.7 446.0 L1339.6 459.0 L1340.3 481.7 L1342.2 510.9 L1343.5 523.9 L1349.4 536.9 L1351.0 549.9 L1350.3 559.6 L1347.7 567.7 L1338.0 575.8 L1341.2 585.6 L1349.4 592.1 L1354.2 599.9 M2546.4 223.6 L2539.9 233.3 L2522.1 243.1 L2512.3 238.2 L2494.5 244.7 L2486.4 249.5 L2488.0 262.5 L2491.2 273.9 L2488.0 282.0 L2478.2 292.7 L2471.8 299.9 M2427.9 441.1 L2434.4 459.0 L2440.9 478.4 L2449.0 497.9 L2455.5 517.4 L2462.0 533.6 L2468.5 548.2 L2476.6 558.0 M2413.3 463.8 L2416.6 478.4 L2421.4 489.8 L2414.9 501.2 L2406.8 509.3 L2408.4 527.1 L2405.2 546.6 L2405.2 566.1 L2408.4 588.8 L2410.1 601.8 L2413.3 606.7 M2340.3 483.3 L2343.5 497.9 L2350.0 520.6 L2351.6 540.1 L2356.5 553.1 L2359.7 566.1 L2367.9 571.0 L2372.7 584.0 L2376.0 598.6 L2380.8 616.4 M2380.8 616.4 L2413.3 606.7 L2444.2 598.6 L2465.3 592.1 L2473.4 582.3 L2482.5 575.8 M2380.8 616.4 L2380.8 655.1 M297.1 630.8 L428.6 668.2 L560.1 703.9 L691.6 730.5 M297.1 630.8 L277.6 697.4 L259.7 755.8 L243.5 806.2 L324.7 937.7 L415.6 1085.1 M560.1 703.9 L545.5 794.8 L519.5 892.2 L491.9 1001.0 L485.4 1029.9 M491.9 1001.0 L584.4 1023.7 L613.6 1029.9 M719.2 600.0 L691.6 730.5 L681.8 792.2 L703.2 795.5 M1029.5 600.0 L1016.6 718.5 L1001.9 840.3 M1016.6 718.5 L1089.6 725.0 L1187.0 733.1 L1263.3 736.4 L1271.4 742.9 L1279.5 747.7 L1286.0 749.4 L1294.2 745.5 L1310.4 745.5 L1320.1 750.0 L1331.5 755.2 L1341.2 760.7 L1347.7 768.8 M703.2 794.8 L771.4 807.8 L894.8 827.3 L1001.9 840.3 L1093.8 849.4 L1089.6 910.1 M1089.6 910.1 L1187.0 916.6 L1284.4 921.4 L1396.4 922.1 M1089.6 910.1 L1084.7 973.4 L1078.2 1054.5 L1075.0 1085.1 M772.1 807.8 L758.4 892.2 L742.2 973.4 L730.8 1049.7 L726.0 1085.1 M704.9 1044.2 L730.8 1049.7 L797.4 1059.4 L894.8 1072.4 L976.0 1080.5 L1024.7 1085.1 M1354.2 600.0 L1353.2 707.1 L1346.1 712.0 L1347.7 723.4 L1352.6 731.5 L1347.7 746.1 L1341.2 760.7 M1353.2 707.1 L1400.0 706.5 M1347.7 768.8 L1355.8 776.9 L1357.5 788.3 L1365.6 799.7 L1368.8 820.8 L1370.5 828.9 L1376.9 835.4 L1379.2 856.5 L1380.2 876.0 L1385.1 885.7 L1388.3 901.9 L1396.4 908.4 L1398.1 916.6 L1406.2 924.7 L1422.4 931.2 L1415.9 944.2 L1415.9 952.3 L1422.4 962.0 L1430.5 971.8 L1437.7 976.6 L1438.6 1022.1 L1439.6 1085.1 M1385.1 885.7 L1400.0 885.1 M1512.0 600.0 L1513.6 626.0 L1526.6 639.0 L1542.9 648.7 L1555.8 663.3 L1576.9 674.7 L1581.8 690.9 L1585.1 707.1 L1589.9 715.3 L1588.3 729.9 L1593.2 744.5 L1607.8 752.6 L1614.3 762.3 L1620.8 772.1 L1632.1 781.8 L1638.6 789.9 L1637.0 801.3 L1627.3 817.5 L1614.3 824.0 L1602.9 828.9 L1599.7 840.3 L1604.5 846.8 L1601.3 866.2 L1591.6 879.2 L1584.4 892.2 L1582.5 908.4 L1585.7 924.7 L1591.6 934.4 L1607.8 947.4 L1620.8 960.4 L1627.3 976.6 L1632.1 980.5 L1641.9 978.2 L1651.6 984.7 L1646.8 1002.6 L1641.9 1018.8 L1650.0 1028.6 M1400.0 708.8 L1580.2 703.9 M1400.0 885.1 L1568.8 879.2 L1576.9 887.3 L1584.4 892.2 M1614.3 761.7 L1742.5 752.6 M1757.1 794.8 L1760.4 807.8 L1765.3 859.7 L1770.1 911.7 L1771.8 937.7 L1768.5 953.9 L1775.0 966.9 L1776.6 976.6 L1770.1 994.5 L1758.8 1010.7 L1757.1 1025.3 L1757.1 1038.3 M1882.8 781.8 L1893.5 859.7 L1901.6 940.9 M1794.5 791.6 L1882.8 781.8 L1945.5 773.7 M1740.9 752.6 L1745.8 772.1 L1753.9 788.3 L1760.4 801.3 L1768.5 802.9 L1778.2 799.7 L1792.9 789.9 L1802.6 768.8 L1810.7 742.9 M1757.1 1038.3 L1766.9 1031.8 L1775.0 1033.4 L1784.7 1028.6 L1794.5 1030.2 L1802.6 1033.4 L1812.3 1023.7 L1823.7 1026.9 L1830.2 1015.6 L1838.3 1009.1 L1848.1 1017.2 L1856.2 1015.6 L1861.0 1002.6 L1869.2 994.5 L1875.6 983.1 L1878.9 970.1 L1890.3 970.1 L1901.6 963.6 L1906.5 957.1 L1901.6 947.4 L1901.6 940.9 L1913.0 940.9 L1922.7 942.5 L1932.5 953.9 L1945.5 957.1 L1958.4 961.0 L1971.4 958.8 L1981.2 960.4 L1994.2 953.9 L2000.6 957.1 L2010.4 963.6 L2015.3 968.5 L2016.9 983.1 M2016.9 968.5 L2026.6 963.6 L2031.5 950.6 L2033.1 937.7 L2042.9 927.9 L2047.7 916.6 L2059.1 901.9 L2068.8 895.5 L2080.2 882.5 L2083.4 866.2 L2086.7 846.8 L2088.3 832.1 L2081.8 824.0 M2072.1 736.4 L2081.8 794.8 L2089.9 846.8 L2096.4 874.4 L2100.0 873.7 M2015.3 983.1 L2023.4 992.9 L2033.1 1005.8 L2042.9 1014.0 L2052.6 1018.8 L2059.1 1028.6 L2072.1 1033.4 L2085.1 1025.3 L2094.8 1026.9 L2101.3 1022.1 M2047.7 1025.3 L2041.2 1031.8 M1971.4 775.3 L1984.4 768.8 L2016.9 742.9 L2049.4 726.6 L2081.8 713.6 L2114.3 694.2 L2133.8 677.9 L2130.5 663.3 L2122.4 651.9 L2119.2 639.0 M1945.5 773.7 L1951.9 781.8 L1964.9 788.3 L1984.4 786.7 L2000.6 783.4 L2023.4 775.3 L2036.4 762.3 L2052.6 749.4 L2072.1 736.4 L2091.6 723.4 L2102.9 713.6 L2114.3 703.9 L2127.3 690.9 L2137.0 679.5 M1951.9 755.8 L1966.6 755.2 L1981.2 752.6 L1989.3 742.9 L2000.6 733.1 L2010.4 725.0 L2016.9 713.6 L2025.0 707.1 L2036.4 702.3 L2052.6 699.0 L2068.8 700.0 L2081.8 687.7 L2094.8 681.2 L2114.3 675.3 L2130.5 671.4 L2136.4 675.3 M1961.7 715.3 L1964.9 729.9 L1951.9 739.6 L1953.6 755.8 L1948.7 762.3 L1945.5 773.7 M2100.0 725.0 L2113.0 728.2 L2197.4 710.4 L2294.8 687.0 L2306.2 687.7 L2314.3 694.2 L2320.8 707.1 L2337.0 713.6 L2379.2 725.0 M2337.0 713.6 L2332.1 729.9 L2327.3 742.9 L2330.5 752.6 L2328.9 762.3 L2340.3 772.1 L2356.5 786.7 L2350.0 794.8 L2341.9 802.9 M2100.0 871.1 L2145.5 861.4 L2207.1 848.4 L2262.3 833.8 L2314.3 822.4 L2327.3 814.3 M2317.5 827.3 L2324.0 846.8 L2330.5 872.7 L2338.6 898.7 L2366.2 893.8 M2145.5 861.4 L2148.7 879.2 L2151.9 890.6 L2163.3 882.5 L2176.3 867.9 L2186.0 866.2 L2197.4 859.7 L2207.1 851.6 M2218.5 851.6 L2223.4 856.5 L2231.5 869.5 L2229.9 882.5 L2215.3 876.0 L2203.9 869.5 L2202.3 882.5 L2197.4 893.8 L2187.7 906.8 L2179.5 913.3 L2176.3 924.7 L2169.8 937.7 L2156.8 934.4 L2151.9 940.9 L2148.7 960.4 L2142.2 976.6 L2134.1 989.6 L2132.5 1002.6 L2122.7 1012.3 L2106.5 1020.5 L2100.0 1022.1 M2231.5 869.5 L2246.1 879.2 L2262.3 885.7 L2275.3 887.3 M2100.0 1067.5 L2197.4 1049.7 L2294.8 1028.6 L2353.2 1015.6 M2382.5 660.1 L2424.7 648.7 L2455.5 640.6 L2475.0 634.1 L2481.5 645.5 L2486.4 653.6 M2455.5 640.6 L2462.0 658.4 L2466.9 676.3 M2380.8 614.6 L2381.8 639.0 L2384.1 660.1 L2387.3 681.2 L2393.8 703.9 L2390.6 715.3 L2385.7 723.4 M2376.0 606.5 L2380.8 614.6 L2411.7 606.5 L2457.1 600.0 M2095.3 654.5 L2090.4 651.5 L2090.4 651.5 L2089.2 646.6 L2094.1 635.7 L2099.0 628.4 L2108.7 621.1 L2116.0 613.1 L2125.7 608.9 L2135.5 604.6 L2145.2 599.8 L2156.2 596.1 L2165.9 591.8 L2174.5 588.2 L2181.8 577.2 L2189.1 573.6 L2195.2 572.4 L2193.9 578.4 L2200.0 582.1 L2204.9 578.4 L2201.2 572.4 L2212.2 567.5 L2221.9 562.6 L2230.5 556.5 L2239.0 549.2 L2247.5 539.5 L2253.6 529.7 L2258.5 521.2 M2174.5 588.2 L2181.8 591.8 L2193.9 594.3 L2202.5 589.4 L2207.3 580.9 M2117.2 634.5 L2125.7 627.8 L2135.5 622.9 L2147.7 619.8 L2157.4 617.4 L2168.4 615.0 L2179.3 613.1 L2190.3 610.7 L2201.2 608.3 L2211.0 605.2 L2215.9 596.7 L2219.5 585.7 L2221.9 573.6 L2223.2 563.8 L2230.5 556.5 M2095.3 654.5 L2106.3 654.5 L2116.0 650.3 L2117.2 634.5 L2118.4 641.8 L2123.3 645.4 L2133.1 640.5 L2142.8 636.9 L2153.8 633.2 L2164.7 631.4 L2175.7 631.4 L2186.6 633.2 L2196.4 630.2 L2206.1 627.8 L2215.9 623.5 L2223.2 617.4 L2230.5 608.9 L2240.2 604.0 L2238.4 593.1 L2234.1 583.3 L2239.0 578.4 L2235.3 573.6 L2229.2 573.6 M2120.9 645.4 L2122.1 653.9 L2125.7 661.2 L2131.8 666.1 L2134.3 671.6 L2128.2 673.4 L2119.7 672.2 L2108.7 674.6 L2099.0 678.3 L2089.2 681.9 L2079.5 685.6 L2071.0 692.9 L2066.1 701.9 M2134.3 671.6 L2129.4 680.7 L2124.5 690.5 L2117.2 699.0 M2125.7 678.3 L2116.0 684.4 L2107.5 691.7 L2097.7 699.0 M416.2 1085.2 L431.8 1109.5 M483.8 1030.0 L480.5 1046.2 L472.4 1056.0 L465.9 1052.7 L459.4 1045.6 L449.7 1044.6 L443.2 1051.1 L441.6 1065.7 L439.0 1088.4 L433.4 1109.5 L433.4 1124.2 L438.3 1146.9 L447.4 1156.6 L441.6 1164.7 L426.9 1176.1 L420.5 1195.6 L409.1 1207.9 L402.6 1211.8 L402.6 1224.8 L410.7 1232.9 L409.1 1244.3 L402.6 1250.8 L394.5 1249.2 M269.5 1228.1 L394.5 1249.2 L384.7 1260.5 L568.2 1377.4 L672.1 1395.3 L715.9 1402.7 L720.8 1375.8 L800.0 1387.1 M726.0 1085.2 L714.3 1159.9 L698.1 1257.3 L681.8 1354.7 L672.1 1395.3 M616.9 1030.0 L704.9 1044.9 M1026.3 1088.4 L1075.0 1091.7 M1075.6 1085.2 L1075.0 1091.7 L1187.0 1099.8 L1316.9 1104.7 L1438.6 1105.6 M1026.3 1088.4 L1023.1 1118.3 L1170.8 1130.0 L1167.5 1192.3 L1164.9 1247.5 L1172.4 1252.4 L1182.1 1260.5 L1193.5 1261.2 L1198.4 1257.3 L1204.9 1262.1 L1206.5 1271.9 L1219.5 1275.1 L1230.8 1278.4 L1242.2 1283.2 L1251.9 1279.4 L1261.7 1280.0 L1264.9 1289.7 L1273.1 1296.9 L1284.4 1289.7 L1294.2 1296.2 L1303.9 1299.5 L1308.8 1296.2 L1312.0 1306.0 L1318.5 1293.6 L1328.2 1297.9 L1336.4 1295.6 L1344.5 1302.7 L1352.6 1307.6 L1365.6 1299.5 L1378.6 1296.9 L1389.9 1293.6 L1399.7 1298.8 M1023.1 1118.3 L1014.9 1192.3 L1005.2 1289.7 L993.8 1395.3 L894.8 1383.9 L803.9 1372.5 L808.8 1383.9 L803.9 1387.1 M803.9 1387.1 L813.6 1388.8 L825.0 1408.2 L839.6 1422.9 L852.6 1439.1 L862.3 1452.1 L880.2 1465.1 L889.9 1479.7 L894.8 1497.5 L896.4 1515.1 M1438.3 1030.0 L1439.0 1106.3 L1439.6 1137.1 L1448.7 1198.8 L1448.1 1309.2 M1400.0 1105.6 L1438.3 1105.6 M1439.6 1136.5 L1656.5 1127.4 L1664.6 1133.9 L1658.1 1146.9 L1650.0 1159.2 L1682.5 1157.3 M1650.0 1030.0 L1666.2 1039.7 L1685.7 1054.4 L1690.6 1072.2 L1689.0 1078.7 L1695.5 1088.4 L1705.2 1090.1 L1710.1 1099.8 L1708.4 1112.8 L1701.9 1119.3 L1690.6 1125.8 L1685.7 1143.6 L1684.1 1157.3 L1685.7 1163.1 L1680.8 1171.2 L1674.4 1182.6 L1669.5 1198.8 L1667.9 1208.6 L1661.4 1218.3 L1650.0 1232.9 L1646.8 1254.0 L1638.6 1258.9 L1630.5 1271.9 L1627.3 1283.2 L1624.0 1296.2 L1617.5 1309.2 L1622.4 1322.2 L1624.0 1331.9 L1622.4 1344.9 L1624.7 1357.9 L1625.6 1370.9 L1635.4 1385.5 L1628.9 1403.4 L1620.8 1416.4 L1614.3 1429.4 L1607.8 1448.8 L1602.9 1465.1 L1601.9 1471.6 L1703.6 1466.7 L1705.2 1474.8 L1700.3 1487.8 L1708.4 1500.8 L1716.6 1515.1 M1755.5 1030.0 L1753.9 1049.5 L1749.0 1060.8 L1739.3 1067.3 L1737.7 1081.9 L1740.9 1085.2 L1719.8 1080.3 L1710.1 1081.9 L1705.2 1090.1 M1690.6 1125.8 L1757.1 1119.3 L1763.6 1115.1 L1763.6 1107.9 L1887.0 1097.5 L1981.2 1085.2 L2075.3 1070.6 L2200.0 1051.1 M1663.0 1219.9 L1768.5 1211.8 L1893.5 1197.2 L2020.1 1179.4 M1471.4 1351.4 L1624.0 1344.9 M1400.0 1299.5 L1409.7 1293.0 L1422.7 1302.1 L1435.7 1309.2 L1448.1 1309.2 L1456.8 1315.7 L1470.8 1316.4 L1471.4 1351.4 L1472.1 1413.1 L1482.8 1429.4 L1489.3 1445.6 L1500.6 1471.6 L1494.2 1497.5 L1490.9 1515.1 M1768.5 1211.8 L1771.8 1224.8 L1769.5 1354.7 L1768.5 1419.6 L1776.6 1468.3 L1779.9 1497.5 M1895.1 1198.8 L1913.0 1263.8 L1932.5 1322.2 L1948.7 1351.4 L1953.6 1361.2 L1947.1 1374.2 L1945.5 1390.4 L1951.9 1406.6 L1953.6 1426.1 L1958.4 1439.1 M1958.4 1439.7 L1822.1 1455.3 L1822.1 1465.1 L1830.2 1473.2 L1833.4 1484.5 L1830.2 1497.5 M1958.4 1439.7 L1968.2 1456.9 L2112.7 1444.9 L2115.9 1455.3 L2122.4 1450.5 L2120.1 1431.0 L2130.5 1427.7 L2146.8 1427.7 M2020.1 1179.4 L2059.1 1161.5 L2122.4 1153.4 L2132.1 1158.2 L2140.3 1169.6 L2200.0 1161.5 M2020.1 1179.4 L2013.6 1197.2 L2028.2 1207.9 L2039.6 1211.8 L2055.8 1232.9 L2078.6 1250.8 L2094.8 1262.1 L2109.4 1280.0 L2122.4 1286.5 L2130.5 1306.0 L2143.5 1315.7 L2154.9 1338.4 L2161.4 1341.7 M2075.3 1070.6 L2078.6 1081.9 L2065.6 1098.2 L2046.1 1109.5 L2026.6 1117.7 L2013.6 1133.9 L2000.6 1143.6 L1981.2 1153.4 L1968.2 1166.4 L1961.7 1176.1 L1961.7 1189.1 M2038.0 1033.2 L2016.9 1057.6 L1997.4 1075.5 L1981.2 1085.2 M2100.0 1069.0 L2197.4 1049.5 L2298.1 1030.0 M2100.0 1155.0 L2122.7 1153.4 L2129.2 1157.3 L2137.3 1161.5 L2140.6 1170.3 L2197.4 1161.5 L2262.3 1203.7 M2100.0 1270.3 L2109.7 1280.0 L2121.1 1286.5 L2129.2 1302.7 L2139.0 1314.1 L2148.7 1323.8 L2153.6 1335.2 L2163.3 1341.0 M2100.0 1445.6 L2113.0 1444.9 L2116.2 1455.3 L2122.7 1450.5 L2121.1 1431.0 L2129.2 1426.8 L2145.5 1427.7 M896.4 1515.2 L899.7 1529.8 L907.8 1539.5 L920.8 1550.9 L933.8 1559.0 L945.1 1567.1 L956.5 1576.9 L966.2 1582.7 L976.0 1580.1 L982.5 1572.0 L990.6 1563.9 L995.5 1549.3 L1001.9 1539.5 L1013.3 1537.3 L1024.7 1532.1 L1037.7 1537.3 L1053.9 1539.5 L1070.1 1541.2 L1078.2 1552.5 L1091.2 1563.9 L1102.6 1578.5 L1110.7 1588.2 L1112.3 1599.6 L1117.2 1611.0 L1123.7 1622.3 L1128.6 1638.6 L1136.7 1648.3 L1144.8 1661.3 L1154.5 1675.9 L1164.9 1684.0 L1169.2 1692.1 L1168.2 1706.8 L1171.4 1719.7 L1178.9 1731.1 L1183.8 1742.5 L1185.4 1753.8 L1191.9 1761.9 L1203.2 1765.2 L1211.4 1771.7 L1222.7 1775.6 L1235.7 1784.0 L1248.7 1786.3 L1261.7 1787.9 L1273.1 1791.2 L1284.4 1799.3 L1292.5 1794.4 L1299.0 1789.5 M1500.0 1476.2 L1497.1 1499.0 L1495.5 1518.4 L1492.2 1537.9 L1484.1 1547.0 L1480.8 1552.5 M1497.4 1460.0 L1502.3 1473.0 L1495.8 1499.0 L1492.5 1524.9 L1487.7 1541.2 L1481.2 1554.2 M1601.9 1471.4 L1703.6 1466.5 L1705.2 1474.6 L1700.3 1487.6 L1708.4 1500.6 L1716.6 1513.6 M1776.6 1460.0 L1779.9 1495.7 M1820.5 1463.2 L1830.2 1473.0 L1833.4 1484.4 L1830.2 1497.3 M1882.3 509.7 L1898.6 521.1 L1906.7 530.8 L1924.5 540.6 L1945.6 550.3 L1952.1 561.7 L1958.6 581.2 L1966.8 605.5 L1974.9 629.9 L1981.4 655.8 L1979.7 673.7 L1977.3 683.4 L1976.5 694.8 L1976.2 715.9 M1849.9 534.9 L1862.9 542.2 L1882.3 551.9 L1903.4 556.8 L1913.2 561.7 L1917.2 571.4 L1916.4 582.8 L1922.1 592.5 L1923.7 603.9 L1923.7 613.6 L1918.1 621.8 L1916.4 631.5 L1909.9 639.6 L1902.6 646.9 L1903.4 657.5 L1913.2 662.3 L1921.3 655.8 L1927.0 646.9 L1929.4 638.8 L1938.3 633.1 L1948.9 632.3 L1956.2 638.8 L1961.9 649.4 L1965.1 660.7 L1969.2 670.5 L1971.6 680.2 L1977.3 683.4 M1849.9 534.9 L1843.4 540.6 L1840.1 548.7 L1841.8 560.1 L1833.6 569.0 L1828.8 577.9 L1819.0 582.8 L1810.9 592.5 L1802.8 597.4 L1801.2 607.1 L1796.3 615.3 L1797.1 625.8 L1795.5 636.4 L1791.4 646.9 L1790.6 655.8 L1793.9 666.4 L1789.8 676.9 L1793.9 687.5 L1799.5 697.2 L1804.4 707.0 L1808.5 716.7 L1810.9 728.9 L1810.9 739.4 M1746.8 620.1 L1743.5 629.9 L1742.7 639.6 L1742.7 651.0 L1737.9 660.7 L1737.0 671.3 L1737.9 681.8 L1735.4 692.4 L1733.0 702.9 L1733.8 714.3 L1737.0 724.0 L1740.3 733.8 L1742.7 742.5 M1763.8 571.4 L1759.8 579.5 L1754.9 586.9 L1754.9 597.4 L1751.7 606.3 L1746.8 620.1 M1722.4 561.7 L1723.2 573.1 L1728.9 582.8 L1734.6 593.3 L1729.7 603.1 L1736.2 610.4 L1731.4 620.1 L1723.2 628.2 M1755.7 543.0 L1763.8 547.9 L1771.9 543.0 L1777.6 548.7 L1784.1 540.6 L1792.2 534.9 L1802.0 533.3 L1812.5 529.2 L1819.8 522.7 L1831.2 524.4 L1840.9 528.4 L1851.5 524.4 L1859.6 525.2 L1871.0 523.5 L1881.5 523.5 L1893.7 522.7 L1905.1 525.2 M1882.3 503.2 L1898.6 504.1 L1914.8 502.9 L1935.9 501.9 L1955.4 502.4 L1968.4 501.6 L1983.0 504.1 L1996.0 502.9 L2010.6 503.2 L2019.5 507.3 L2025.2 515.4 L2034.1 522.7 L2043.1 530.8 L2051.2 530.8 L2054.4 539.8 L2059.3 547.1 L2065.8 554.4 L2074.7 557.6 L2074.7 564.1 L2069.0 563.3 L2062.5 568.2 L2064.2 574.7 L2061.7 583.6 L2051.2 583.1 L2039.8 579.5 L2031.7 575.0 L2025.2 582.0 L2022.8 576.3 L2017.1 571.4 L2012.2 573.1 L2007.3 566.6 L2002.5 560.1 L1996.0 555.2 L1986.2 552.8 L1994.4 548.7 L2003.3 548.7 M1986.2 552.8 L1994.4 560.1 L2002.5 569.8 L2009.0 577.9 L2010.6 584.4 L2006.5 595.8 L1999.2 605.5 L1996.8 615.3 L1996.8 625.0 L1999.2 636.4 L2001.7 647.7 L2003.3 657.5 L2000.8 667.2 L1994.4 675.3 L1984.6 684.3 L1978.1 682.6 M1929.4 517.9 L1937.5 513.0 L1950.5 515.4 L1961.9 509.7 L1973.2 508.9 L1979.7 514.6 L1983.0 524.4 L1978.1 532.5 L1970.0 531.7 L1960.3 530.8 L1950.5 527.6 L1939.2 524.4 L1929.4 517.9 M1646.6 421.6 L1649.1 410.6 L1650.3 397.2 L1660.0 391.1 L1666.1 392.4 L1675.8 379.0 L1679.5 370.4 L1688.0 361.9 L1695.3 360.7 L1705.1 364.4 L1714.8 368.0 L1727.0 370.4 L1736.7 368.7 L1747.7 366.3 L1759.9 367.3 L1765.9 376.5 L1770.8 386.3 L1774.5 396.0 L1780.5 404.5 L1789.1 411.8 L1800.0 413.1 L1811.0 411.8 L1821.9 409.9 L1830.5 411.3 L1827.3 420.4 L1826.3 431.3 L1836.6 438.6 L1845.1 445.2 L1842.6 455.7 L1840.2 464.2 L1848.7 467.8 L1858.5 471.5 L1857.3 481.2 L1853.6 488.5 L1860.9 492.2 L1870.6 498.3 L1878.0 508.0 L1885.3 510.5 M1646.6 421.6 L1629.6 428.9 L1612.5 438.6 L1593.1 449.6 L1583.3 456.9 L1568.7 472.7 L1556.5 487.3 L1544.4 498.3 L1534.6 508.0 L1529.7 520.2 L1531.0 539.7 L1527.3 551.8 L1520.0 556.7 M1639.3 425.2 L1666.1 410.6 L1688.0 404.5 L1834.1 470.3 L1848.7 486.1 L1865.8 495.8 L1870.6 503.1 M1655.1 433.7 L1666.1 420.4 L1678.3 410.6 L1675.8 405.7 L1663.7 413.1 L1652.7 427.7 L1655.1 433.7 M1534.6 508.0 L1544.4 505.6 L1561.4 505.6 L1572.4 499.5 L1590.6 492.2 L1600.4 488.5 L1606.4 487.3 L1597.9 495.8 L1593.1 503.1 L1585.7 512.9 L1600.4 514.1 L1611.3 515.3 L1624.7 505.6 L1634.4 498.3 L1646.6 493.4 L1658.8 486.1 L1671.0 476.4 L1680.7 469.1 L1690.5 459.3 L1700.2 453.2 L1714.8 452.0 L1707.5 459.3 L1695.3 469.1 L1688.0 476.4 L1688.0 486.1 L1691.7 493.4 L1699.0 484.9 L1709.9 486.1 L1720.9 488.5 L1728.2 495.8 L1734.3 504.4 L1744.0 506.8 L1753.8 506.3 L1763.5 506.8 L1772.0 503.1 L1779.3 495.8 L1790.3 492.2 L1800.0 488.1 L1812.2 486.1 L1823.2 482.5 L1834.1 480.0 L1836.6 495.8 M1590.6 501.9 L1604.0 514.1 L1617.4 520.2 L1624.7 528.7 L1646.6 533.6 L1666.1 538.5 L1678.3 542.1 L1690.5 542.1 L1700.2 544.1 L1709.9 549.4 L1719.7 555.5 L1724.5 562.8 L1722.1 573.8 L1729.4 583.5 L1734.3 593.2 L1729.4 603.0 L1722.1 612.7 L1719.7 622.5 L1724.1 629.8 M1531.5 510.9 L1529.9 520.6 L1531.5 546.6 L1516.9 556.4 L1507.1 575.8 L1515.3 587.2 L1512.0 599.9 M2010.4 200.8 L2013.6 212.2 L2020.1 251.2 L2028.2 293.4 L2036.4 332.3 L2044.5 371.3 L2049.4 400.5 L2059.1 420.0 L2073.7 433.0 L2089.9 455.7 L2104.5 460.6 L2140.3 462.2 L2156.5 467.1 L2169.5 475.2 L2179.2 473.6 L2189.0 483.3 L2200.0 489.8 M237.5 191.4 L246.4 199.0 L254.5 206.2 L262.5 213.8 L271.4 220.9 L282.1 223.6 L292.4 221.3 L299.1 201.2 L304.5 188.8 L303.6 182.5 M308.9 198.6 L305.4 188.8 M118.5 568.7 L155.8 580.7 L194.8 595.3 L246.8 613.2 L297.1 630.4 M719.2 579.9 L719.2 600.0 M432.5 655.2 L428.6 668.2"/>

<path fill="none" stroke="#000" stroke-width="4.5" stroke-dasharray="7 3" stroke-linejoin="round" d="M1409.4 374.5 L1411.0 350.2 L1419.2 353.4 L1421.4 364.8 L1424.0 377.8 L1428.9 388.2 L1443.5 392.4 L1456.5 394.0 L1467.9 401.2 L1477.6 399.9 L1484.1 394.7 L1500.0 394.0 M2100.0 460.6 L2139.0 461.2 L2155.2 467.1 L2168.2 476.8 L2176.3 477.8 L2181.2 470.3 L2189.3 481.7 L2199.0 489.8 L2216.9 486.6 L2226.6 488.8 L2242.9 480.1 L2262.3 467.1 L2276.9 462.2 L2286.7 463.8 L2286.7 480.1 L2294.8 483.3 M2281.8 501.8 L2307.8 491.4 L2340.3 483.3 L2376.0 473.6 L2413.3 463.8 L2416.6 444.4 L2427.9 439.5 L2437.7 429.7 L2440.9 413.5 L2449.0 397.3 L2445.8 381.0 L2444.2 364.8 L2445.8 345.3 L2452.3 319.4 L2458.8 293.4 L2460.4 291.1 L2468.5 291.8 L2471.8 299.9 L2478.2 301.5 L2488.0 293.4 L2501.0 283.6 L2522.1 291.8 L2531.8 316.1 L2541.6 342.1 L2551.3 368.1 L2559.4 374.5 L2567.5 369.7 L2574.0 384.3 L2580.5 394.0 L2590.3 394.0 L2596.8 394.0 M2693.2 299.0 L2689.0 308.0 L2686.3 313.5 M1500.6 397.3 L1515.3 405.4 L1521.8 415.1 L1529.9 411.9 L1542.9 418.4 L1559.1 427.1 L1572.1 421.6 L1581.8 417.4 L1591.6 421.6 L1614.3 420.6 L1624.0 428.1 L1640.3 425.8 M321.4 187.9 L357.1 200.8 L405.8 218.7 L454.5 234.9 L503.2 249.5 L540.6 260.9 L580.5 273.2 L616.9 282.0 L657.5 288.5 L714.3 303.1 L800.0 320.0 M800.0 320.0 L818.5 321.9 L894.8 337.2 L976.0 348.6 L1053.9 356.7 L1161.0 365.8 L1251.9 370.6 L1328.2 373.9 L1409.4 374.5"/>

<path fill="none" stroke="#000" stroke-width="4.4" stroke-linejoin="round" stroke-linecap="round" d="M236.4 197.6 L231.2 209.0 L228.9 223.6 L233.1 234.9 L232.1 251.2 L229.9 267.4 L228.9 282.0 L227.3 286.9 L239.6 290.8 L227.3 293.4 L226.6 298.2 L230.5 304.7 L225.6 312.9 L220.8 319.4 L215.3 326.5 L227.3 328.4 L238.6 332.3 L241.9 338.8 L250.0 346.0 M250.0 346.9 L241.9 343.7 L238.6 338.8 L230.5 337.2 L218.2 334.0 L212.7 351.8 L207.8 366.4 L202.9 377.8 L194.8 394.0 L186.7 410.3 L180.2 426.5 L175.3 436.2 L168.8 447.6 L162.3 460.6 L157.5 473.6 L149.4 483.3 L142.9 489.8 L151.0 488.2 L142.9 491.4 L134.7 501.2 L126.6 510.9 L121.8 517.4 L122.7 527.1 L123.4 533.6 L118.5 543.4 L115.3 554.7 L116.9 564.5 L120.1 569.4 L115.3 575.8 L113.0 580.7 L115.3 585.6 L114.3 598.6 L110.4 608.3 L103.9 619.7 L97.4 629.4 L89.3 639.2 L82.8 647.3 L77.3 655.1 M2466.9 179.7 L2457.1 187.9 L2449.0 199.2 L2440.9 215.5 L2437.7 231.7 L2431.2 247.9 L2426.3 255.1 L2411.7 254.4 L2392.2 253.1 L2372.1 256.0 L2382.5 259.6 L2401.9 259.0 L2424.7 261.6 L2427.9 267.4 L2426.3 283.6 L2421.4 299.9 L2414.9 312.9 L2408.4 329.1 L2398.7 342.1 L2392.2 353.4 L2379.2 364.8 L2369.5 372.9 L2359.7 382.7 L2350.0 397.3 L2338.6 407.0 L2333.8 416.8 L2328.9 429.7 L2324.0 442.7 L2314.3 452.5 L2307.8 465.5 L2301.3 478.4 L2291.6 489.8 L2281.8 501.8 M2281.8 501.8 L2294.8 489.8 L2307.8 478.4 L2315.9 463.8 L2325.6 455.7 L2327.3 446.0 L2332.1 429.7 L2337.0 418.4 L2343.5 408.6 L2354.9 397.3 L2364.6 384.3 L2374.4 372.9 L2385.7 364.8 L2398.7 355.1 L2408.4 342.1 L2419.8 325.8 L2427.9 309.6 L2434.4 293.4 L2439.3 273.9 L2444.2 254.4 L2452.3 234.9 L2463.6 218.7 L2479.9 202.5 L2494.5 189.5 L2507.5 179.7 M2617.3 179.7 L2615.9 185.2 L2610.4 190.7 L2606.3 197.6 L2600.7 203.1 L2595.2 205.2 L2582.8 204.5 L2573.1 202.4 L2569.0 209.3 L2560.7 210.7 L2553.8 214.2 L2544.2 225.9 L2549.7 223.8 L2558.0 218.3 L2569.0 217.6 L2578.7 218.3 L2585.6 216.9 L2589.7 221.1 L2595.2 228.0 L2600.7 225.2 L2604.9 218.3 L2610.4 212.8 L2615.9 208.6 L2624.2 208.6 L2629.7 209.3 L2629.0 203.1 L2628.3 196.2 L2630.4 190.7 L2633.2 192.8 L2634.5 201.7 L2631.8 210.0 L2629.0 215.5 L2627.6 222.4 L2629.7 230.7 L2626.9 240.4 L2622.8 248.7 L2619.4 255.6 L2626.9 256.9 L2632.5 251.4 L2639.4 249.3 L2641.4 258.3 L2643.5 263.8 L2649.0 270.7 L2653.2 270.7 L2658.7 279.0 L2664.2 287.3 L2671.1 292.1 L2679.4 289.4 L2689.0 286.6 L2695.9 285.2 L2701.5 288.0 L2695.9 294.9 L2693.2 299.0 L2698.7 296.9 L2705.6 298.3 L2712.5 300.4 L2719.4 296.3 L2726.3 297.6 L2731.8 299.7 L2737.3 294.9 L2744.2 292.1 L2752.5 290.0 L2755.3 295.6 L2762.2 292.8 L2767.7 291.4 L2773.2 283.2 L2777.4 274.9 L2780.1 269.4 L2784.3 273.5 L2789.8 277.6 L2796.7 276.9 L2803.6 273.5 L2810.5 276.3 L2817.4 280.4 L2821.5 283.8 M2821.5 301.1 L2813.2 308.0 L2803.6 319.0 L2793.9 328.7 L2784.3 339.7 L2776.0 348.0 L2767.7 354.9 L2759.4 359.0 L2753.9 363.2 L2745.6 364.6 L2742.9 365.9 L2748.4 370.1 L2747.0 374.2 L2740.1 376.2 M2770.5 350.0 L2766.3 352.1 L2759.4 356.2 L2755.3 361.0 L2749.8 363.1 L2743.5 363.8 L2747.0 366.6 L2749.1 372.8 L2744.2 376.2 L2737.3 376.9 L2731.8 374.1 L2727.7 376.2 L2726.3 383.1 L2721.5 379.7 L2718.0 384.5 L2719.4 391.4 L2724.9 395.5 L2722.9 399.7 L2720.8 406.6 L2717.3 414.9 L2714.6 421.8 L2712.5 428.7 L2709.7 435.6 L2705.6 442.5 L2701.5 443.8 L2698.0 446.6 L2696.6 452.1 L2699.4 456.9 L2695.9 459.7 L2691.1 460.4 L2686.3 463.8 L2682.8 462.9 L2677.3 456.9 L2671.8 452.1 L2667.7 452.1 L2666.3 457.6 L2660.8 455.6 L2657.3 450.7 L2653.2 444.5 L2649.7 438.3 L2648.3 432.8 L2646.3 427.3 L2643.5 433.5 L2641.4 428.7 L2642.8 423.1 L2644.9 424.5 L2646.3 420.4 L2648.3 413.5 L2651.8 408.0 L2657.3 403.1 L2659.4 402.4 L2664.9 395.5 L2667.0 391.4 L2660.1 390.7 L2665.6 383.1 L2672.5 373.5 L2678.0 365.2 L2684.9 356.9 L2693.2 350.0 M2669.7 376.2 L2673.9 370.1 L2679.4 363.2 L2684.9 354.9 L2690.4 348.0 L2695.9 341.1 L2700.1 342.5 L2702.8 352.1 L2707.0 352.1 L2715.3 354.9 L2709.7 348.0 L2712.5 342.5 L2718.0 337.0 L2724.9 331.4 L2733.2 327.3 L2737.3 321.8 L2729.1 323.2 L2720.8 325.9 L2712.5 330.1 L2702.8 332.8 L2693.2 337.7 L2686.3 339.7 L2683.5 345.2 L2680.8 348.7 L2674.6 348.0 L2676.6 339.7 L2680.8 332.8 L2684.9 324.5 L2687.7 316.3 L2686.3 309.4 L2683.5 312.1 L2678.0 312.8 L2671.8 309.4 L2674.6 314.9 L2678.0 317.6 L2676.6 323.2 L2675.2 328.7 L2669.7 332.8 L2665.6 338.3 L2660.1 345.2 L2655.9 350.8 L2650.4 359.0 L2644.9 364.6 L2639.4 370.1 L2635.2 372.8 L2631.1 371.5 L2630.4 363.2 L2626.9 365.9 L2624.2 370.1 L2626.9 372.8 L2629.7 376.2 M2629.7 376.2 L2626.9 379.0 L2622.8 384.5 L2620.0 387.3 L2616.6 384.5 L2611.8 387.3 L2606.9 392.1 L2603.5 394.8 L2600.7 391.4 L2596.6 390.7 L2593.8 392.8 L2586.9 392.5 L2591.1 394.2 L2594.5 398.3 L2595.9 405.2 L2599.4 408.6 L2604.9 410.0 L2602.8 414.9 L2600.0 421.1 L2593.8 422.4 L2589.7 425.2 L2585.6 429.3 L2584.2 433.5 L2580.0 436.2 L2575.2 436.2 L2573.1 441.8 L2574.5 446.6 L2569.7 452.1 L2566.2 456.3 L2562.8 463.2 L2558.0 463.8 L2553.1 460.4 L2552.4 456.3 L2551.1 450.0 L2549.7 456.3 L2551.1 463.2 L2545.5 464.5 L2539.3 463.2 L2540.0 457.6 L2537.3 452.1 L2535.9 450.7 L2533.8 456.9 L2531.0 461.8 L2532.4 467.3 L2531.7 474.2 L2532.4 479.7 L2533.8 483.2 L2531.0 488.0 L2527.6 490.7 L2523.5 492.1 L2520.7 496.3 L2519.3 500.4 L2515.2 496.3 L2511.0 497.0 L2508.3 501.8 L2506.2 503.9 L2508.3 508.7 L2505.5 512.1 L2501.4 513.5 M2509.1 504.4 L2502.6 510.9 L2494.5 514.2 L2491.2 523.9 L2494.5 527.1 L2488.0 543.4 L2484.7 559.6 L2482.5 575.8 L2483.1 584.0 L2496.1 588.8 L2489.6 595.3 L2486.4 605.1 L2483.1 613.2 L2494.5 616.4 L2501.0 624.5 L2510.7 629.4 L2515.6 637.5 L2525.3 635.9 L2536.7 624.5 L2533.4 616.4 L2523.7 613.2 L2533.4 614.8 L2539.9 622.9 L2543.2 634.3 L2531.8 644.0 L2518.8 647.3 L2510.7 655.1 M2822.9 188.6 L2816.0 186.6 L2810.5 181.7 L2805.0 181.0 L2800.8 187.9 L2798.1 197.6 L2796.7 207.3 L2795.3 218.3 L2793.9 229.3 L2792.5 241.8 L2793.2 250.0 L2796.7 259.7 L2802.2 268.0 L2809.1 272.1 L2816.0 270.7 L2822.9 266.6 M77.3 658.4 L76.3 666.6 L81.2 677.9 L86.0 690.9 L88.3 703.9 L86.0 713.6 L80.5 725.0 L79.5 736.4 L77.9 746.1 L74.7 754.2 L79.5 767.2 L84.4 778.6 L90.9 788.3 L94.2 801.3 L95.8 809.4 L89.3 815.9 L95.8 824.0 L103.9 832.1 L108.8 838.6 L103.9 846.8 L101.3 859.7 L99.0 872.7 L102.3 882.5 L107.1 890.6 L116.9 895.5 L120.1 903.6 L116.9 911.7 L108.8 918.2 L105.5 931.2 L110.4 942.5 L115.3 957.1 L118.5 970.1 L121.8 979.9 L128.2 989.6 L131.5 997.7 L135.7 1004.2 L132.5 1012.3 L139.6 1020.5 L140.3 1028.6 L136.4 1036.7 L134.7 1044.8 L131.5 1054.5 L136.4 1062.7 L144.5 1066.6 L155.8 1069.2 L165.6 1075.6 L176.9 1078.9 L185.1 1085.1 M108.8 838.6 L112.0 827.3 L115.3 820.1 L121.8 819.2 L128.2 825.6 L136.4 825.6 L146.1 831.2 L157.5 837.7 L146.1 835.4 L133.1 828.9 L121.8 828.9 L115.3 832.1 L113.6 841.9 L118.5 851.6 L120.1 862.3 L113.6 856.5 L108.8 846.8 L107.1 840.3 M2510.7 655.2 L2499.4 660.1 L2488.0 664.9 L2479.9 674.7 L2463.6 682.8 L2444.2 690.9 L2424.7 697.4 L2408.4 707.1 L2393.8 721.8 L2385.7 731.5 L2380.8 742.9 L2376.0 751.0 L2372.7 755.8 L2376.0 760.7 L2384.1 762.3 L2389.0 772.1 L2390.6 785.1 L2392.2 798.1 L2389.0 811.0 L2385.7 820.8 L2379.2 827.3 L2377.6 837.0 L2374.4 846.8 L2371.1 856.5 L2366.9 861.4 L2364.6 851.6 L2356.5 845.1 L2343.5 841.9 L2335.4 832.1 L2328.9 824.0 L2327.3 814.3 L2332.1 807.8 L2340.3 802.9 L2346.8 794.8 L2340.3 802.9 L2332.1 807.8 L2327.3 814.3 L2327.3 824.0 L2330.5 833.8 L2338.6 846.8 L2346.8 859.7 L2356.5 869.5 L2364.6 876.0 L2366.2 885.7 L2369.5 893.8 L2367.9 905.2 L2363.0 921.4 L2359.7 934.4 L2358.1 950.6 L2351.6 963.6 L2348.4 978.2 L2343.5 970.1 L2341.9 957.1 L2343.5 940.9 L2347.4 924.7 L2341.9 927.9 L2333.8 916.6 L2332.1 906.8 L2324.0 913.3 L2314.3 906.8 L2311.0 893.8 L2322.4 893.8 L2311.0 889.0 L2304.5 876.0 L2307.8 869.5 L2301.3 859.7 L2306.2 846.8 L2314.3 838.6 L2307.8 840.3 L2298.1 850.0 L2291.6 859.7 L2286.7 861.4 L2293.2 869.5 L2294.8 879.2 L2289.9 884.1 L2298.1 892.2 L2294.8 903.6 L2307.8 916.6 L2315.9 927.9 L2301.3 921.4 L2291.6 911.7 L2289.9 901.9 L2281.8 916.6 L2270.5 921.4 L2264.0 916.6 L2264.0 906.8 L2268.8 897.1 L2275.3 889.0 L2272.1 901.9 L2267.2 911.7 L2272.1 921.4 L2281.8 923.1 L2294.8 924.7 L2307.8 934.4 L2320.8 939.3 L2322.4 952.3 L2307.8 944.2 L2294.8 937.7 L2278.6 931.2 L2291.6 940.9 L2307.8 952.3 L2320.8 960.4 L2328.9 968.5 L2324.0 978.2 L2314.3 973.4 L2302.9 968.5 L2311.0 978.2 L2324.0 986.4 L2332.1 988.0 L2327.3 994.5 L2314.3 988.0 L2298.1 984.7 L2281.8 984.7 L2294.8 983.1 L2311.0 989.6 L2324.0 1001.0 L2333.8 994.5 L2348.4 994.5 L2353.2 1004.2 L2359.7 1015.6 L2367.9 1028.6 L2376.0 1039.9 L2385.7 1052.9 L2392.2 1064.3 L2395.5 1077.3 L2396.1 1085.1 M2484.7 600.0 L2483.1 613.0 L2494.5 614.6 L2501.0 622.7 L2509.7 627.6 L2515.6 635.7 L2525.3 634.1 L2536.7 624.4 L2533.4 616.2 L2523.7 613.0 L2533.4 613.6 L2539.9 621.1 L2543.2 632.5 L2531.8 642.2 L2518.8 645.5 L2510.7 653.6 M2322.4 1043.2 L2325.6 1054.5 L2340.3 1049.7 L2350.0 1039.9 L2359.7 1036.7 L2369.5 1041.6 L2366.2 1051.3 L2359.7 1057.8 L2346.8 1059.4 L2327.3 1060.4 L2324.0 1054.5 M2369.5 1051.3 L2376.0 1061.0 L2372.7 1074.0 L2366.2 1085.1 M185.1 1085.2 L193.2 1093.3 L191.6 1099.8 L199.7 1107.9 L211.0 1115.1 L224.0 1118.3 L227.3 1127.4 L224.7 1137.1 L230.5 1142.0 L233.1 1138.8 L241.9 1143.6 L248.4 1153.4 L256.5 1163.1 L264.6 1176.1 L269.5 1192.3 L267.9 1205.3 L264.6 1218.3 L271.1 1219.9 L269.5 1228.1 M269.5 1228.1 L268.8 1241.0 L274.4 1252.4 L275.3 1263.8 L280.8 1271.9 L285.7 1276.8 L276.0 1281.6 L282.5 1283.2 L277.6 1293.0 L282.5 1302.7 L287.3 1314.1 L290.6 1323.8 L285.7 1333.6 L292.2 1341.7 L297.1 1348.2 L294.8 1361.2 L292.2 1372.5 L301.9 1379.0 L300.3 1390.4 L296.1 1401.8 L298.7 1405.0 L300.3 1416.4 L308.4 1426.1 L316.6 1435.2 L323.1 1444.0 L332.8 1449.5 L339.3 1461.8 L345.8 1473.2 L352.3 1486.2 L358.8 1497.5 L365.3 1507.3 L366.9 1515.1 M420.5 1515.1 L419.5 1510.5 L414.0 1505.6 L411.7 1497.5 L404.2 1495.9 L405.2 1484.5 L401.0 1474.8 L394.5 1460.2 L384.7 1447.2 L379.9 1438.4 L370.8 1429.4 L370.1 1424.5 L364.3 1414.7 L362.0 1403.4 L366.9 1387.1 L366.2 1379.0 L366.9 1367.7 L366.2 1354.7 L363.0 1342.3 L368.5 1327.1 L373.4 1314.1 L378.2 1309.2 L371.8 1295.6 M371.8 1295.6 L386.4 1306.6 L397.7 1320.6 L407.5 1329.4 L415.6 1329.4 L418.8 1323.8 L431.8 1335.2 L431.8 1344.9 L444.8 1351.4 L460.4 1361.8 L459.4 1369.3 L453.9 1370.3 L452.9 1379.0 L449.7 1390.4 L452.9 1400.1 L457.8 1416.4 L461.0 1429.4 L460.4 1440.7 L464.3 1452.1 L467.5 1463.4 L472.4 1473.2 L470.8 1484.5 L478.9 1489.4 L478.9 1500.8 L483.8 1510.5 L487.0 1515.1 M2369.5 1030.0 L2382.5 1046.2 L2392.2 1062.5 L2397.1 1078.7 L2396.1 1087.8 L2385.7 1093.3 M2381.8 1095.6 L2376.0 1099.8 M2376.0 1099.8 L2367.9 1115.1 L2359.7 1130.6 L2356.5 1137.1 L2343.5 1134.5 L2324.0 1139.7 L2315.9 1148.5 L2311.0 1142.0 L2314.3 1152.7 L2307.8 1159.9 L2299.7 1171.2 L2294.8 1184.2 L2291.6 1181.0 L2293.2 1197.2 L2281.8 1198.8 L2270.5 1202.1 L2260.7 1208.6 L2251.0 1219.9 L2244.5 1232.9 L2239.6 1244.3 L2234.7 1241.0 L2239.6 1254.0 L2231.5 1265.4 L2223.4 1270.3 L2221.8 1278.4 L2212.0 1286.5 L2208.8 1284.9 L2205.5 1296.2 L2194.2 1302.7 L2186.0 1309.2 L2176.3 1308.6 L2182.8 1315.7 L2177.9 1322.2 L2168.2 1315.7 L2171.4 1327.1 L2176.3 1328.7 L2169.8 1336.8 L2166.6 1346.6 L2158.4 1354.7 L2155.2 1367.7 L2155.8 1379.0 L2151.9 1390.4 L2147.1 1400.1 L2148.7 1411.5 L2145.5 1426.1 L2151.9 1437.5 L2160.1 1455.3 L2169.8 1476.4 L2181.2 1495.9 L2194.2 1515.1 M2322.4 1044.6 L2327.3 1059.9 L2346.8 1054.4 L2359.7 1051.1 L2363.0 1067.3 L2369.5 1052.7 L2376.0 1054.4 L2377.6 1065.7 L2369.5 1078.7 L2363.0 1088.4 L2350.0 1089.1 L2341.9 1083.6 L2338.6 1090.1 L2327.3 1091.0 L2317.5 1089.4 L2330.5 1093.3 L2346.8 1098.2 L2343.5 1109.5 L2333.8 1117.0 L2322.4 1111.2 L2332.1 1118.3 L2341.9 1118.3 L2350.0 1114.4 L2359.7 1117.0 L2367.9 1115.1 M368.5 1519.1 L363.6 1529.8 L357.1 1539.5 L349.0 1547.7 L337.7 1550.9 L327.9 1550.9 L316.6 1546.0 L305.2 1542.8 L303.6 1547.7 L308.4 1554.2 L316.6 1563.9 L326.3 1575.3 L327.3 1586.6 L332.8 1593.1 L342.5 1598.0 L349.0 1609.4 L357.1 1612.6 L362.0 1624.0 L366.9 1630.5 L376.6 1628.2 L388.0 1630.5 L394.5 1622.3 L394.5 1636.9 L397.7 1646.7 L405.8 1658.1 L414.0 1667.8 L428.6 1677.5 L433.4 1690.5 L437.7 1703.5 L436.7 1719.7 L438.3 1729.5 L433.4 1742.5 L428.6 1752.2 L425.3 1763.6 L428.6 1770.1 L438.3 1781.4 L439.9 1787.9 L446.4 1789.5 L452.9 1799.3 L464.3 1810.6 L477.3 1823.6 L487.0 1836.6 L493.5 1844.7 L498.4 1852.9 L506.5 1859.4 L513.0 1865.8 L516.2 1877.2 L519.5 1883.7 L521.1 1904.8 L524.4 1914.5 L532.5 1916.2 L542.2 1912.9 L550.3 1906.4 L560.1 1901.6 L564.9 1888.6 L566.6 1880.5 L561.7 1872.3 L553.6 1869.1 L553.6 1859.4 L548.7 1846.4 L540.6 1833.4 L532.5 1823.6 L526.0 1818.8 L522.1 1822.0 L522.1 1830.1 L517.9 1833.4 L514.6 1828.5 L508.1 1825.3 L503.2 1813.9 L502.6 1797.7 L506.5 1787.9 L506.5 1776.6 L500.0 1761.9 L496.8 1745.7 L496.8 1736.0 L490.3 1732.7 L485.4 1719.7 L484.4 1706.8 L487.0 1693.8 L484.4 1680.8 L483.8 1671.0 L479.9 1654.8 L470.8 1643.4 L467.5 1646.7 L470.8 1661.3 L464.3 1651.6 L462.7 1640.2 L459.4 1632.1 L461.0 1627.2 L452.9 1619.1 L449.7 1606.1 L449.7 1596.4 L439.9 1586.6 L431.8 1573.6 L431.2 1565.5 L432.5 1554.2 L430.2 1544.4 L431.8 1534.7 L422.1 1528.2 L418.8 1516.8 M487.0 1518.4 L490.3 1529.8 L498.4 1546.0 L508.1 1552.5 L514.6 1570.4 L521.1 1581.8 L530.8 1589.2 L537.3 1587.6 L553.6 1594.7 L547.1 1604.5 L545.5 1619.1 L550.3 1632.1 L560.1 1643.4 L576.3 1650.9 L576.3 1664.5 L581.2 1675.9 L597.4 1677.5 L607.1 1690.5 L608.8 1701.9 L613.6 1710.0 L607.1 1707.4 L599.0 1714.9 L594.2 1721.4 L592.5 1739.2 L597.4 1749.0 L607.1 1751.6 L616.9 1749.0 L621.8 1745.7 L610.4 1757.1 L608.8 1760.3 L625.0 1758.7 L626.6 1766.8 L639.6 1778.2 L647.7 1786.3 L664.0 1796.0 L662.3 1799.3 L651.0 1792.8 L657.5 1804.2 L662.3 1812.3 L662.3 1822.0 L668.8 1830.1 L678.6 1835.0 L688.3 1836.6 L689.9 1844.7 L676.9 1836.6 L685.1 1848.0 L698.1 1861.0 L711.0 1874.0 L719.2 1885.3 L727.3 1901.6 L735.4 1912.9 L743.5 1929.2 L751.6 1938.9 L758.1 1947.0 M1261.7 1947.0 L1263.3 1921.0 L1266.6 1898.3 L1271.4 1878.8 L1276.3 1859.4 L1282.8 1839.9 L1290.9 1823.6 L1297.4 1810.6 L1300.0 1797.7 L1299.0 1789.5 M1299.0 1789.5 L1297.4 1778.2 L1294.2 1761.9 L1290.9 1745.7 L1289.3 1729.5 L1288.3 1713.2 L1292.5 1700.3 L1299.0 1687.3 L1307.1 1674.3 L1316.9 1662.9 L1329.9 1653.2 L1344.5 1643.4 L1352.6 1635.3 L1368.8 1627.2 L1385.1 1619.1 L1398.1 1611.0 L1412.7 1602.9 L1415.9 1593.1 L1430.5 1585.0 L1443.5 1572.0 L1459.7 1563.9 L1476.0 1557.4 L1489.0 1554.2 L1500.0 1553.2 M1299.0 1789.5 L1292.5 1774.9 L1286.0 1763.6 L1282.8 1745.7 L1277.9 1729.5 L1282.8 1719.7 L1284.4 1711.6 L1271.4 1708.4 L1266.6 1698.6 L1276.3 1705.1 L1286.0 1708.4 L1294.2 1687.3 L1287.7 1677.5 L1294.2 1672.7 L1304.5 1674.3 L1308.8 1662.9 L1302.3 1656.4 L1315.3 1653.2 L1321.8 1654.8 L1323.4 1640.2 L1333.1 1646.7 L1344.5 1636.9 L1336.4 1630.5 L1332.5 1620.7 L1341.2 1624.0 L1349.4 1624.0 L1367.2 1627.2 M1419.2 1557.4 L1425.6 1576.9 L1432.1 1572.0 L1438.6 1567.1 L1448.4 1567.1 L1438.6 1563.9 L1437.0 1555.8 L1430.5 1557.4 L1422.4 1557.4 M751.9 1947.0 L742.2 1929.2 L734.1 1912.9 L722.7 1895.1 L713.0 1875.6 L700.0 1861.0 M1500.0 1553.2 L1507.1 1551.9 L1518.5 1551.6 L1529.9 1554.2 L1539.6 1558.1 L1549.4 1562.3 L1562.3 1563.9 L1575.3 1564.5 L1585.1 1560.6 L1580.2 1554.2 L1585.1 1547.7 L1593.2 1545.4 L1596.4 1549.3 L1606.2 1549.3 L1614.3 1559.0 L1624.0 1563.9 L1628.9 1560.6 L1631.2 1570.4 L1637.0 1575.3 L1627.3 1578.5 L1640.3 1582.7 L1651.6 1586.0 L1659.7 1587.3 L1666.2 1576.9 L1672.7 1574.3 L1680.8 1575.3 L1685.7 1585.0 L1689.0 1587.3 L1694.8 1581.8 L1696.1 1570.4 L1695.5 1562.3 L1689.0 1559.0 L1698.7 1561.3 L1710.1 1567.1 L1711.7 1572.0 L1721.4 1570.4 L1731.2 1575.3 L1740.9 1581.8 L1734.4 1589.2 L1737.7 1583.4 L1749.0 1588.2 L1750.6 1581.8 L1755.5 1576.9 L1747.4 1570.4 L1736.0 1565.5 L1724.7 1562.3 L1716.6 1555.8 L1712.3 1550.9 L1719.8 1545.1 L1726.3 1540.5 L1732.8 1536.3 L1729.5 1526.6 L1724.7 1523.3 L1719.8 1529.8 L1716.6 1534.7 L1706.8 1529.8 L1705.2 1524.9 L1711.7 1520.1 L1701.9 1518.4 L1693.8 1524.9 L1685.7 1528.8 L1674.4 1523.3 L1672.7 1521.7 L1679.2 1508.7 L1684.1 1505.5 L1693.8 1507.1 L1701.9 1511.9 L1714.9 1515.2 L1719.8 1517.8 L1724.7 1513.6 L1731.2 1505.5 L1737.7 1505.5 L1745.8 1502.2 L1753.9 1498.3 L1765.3 1501.6 L1779.9 1499.6 L1794.5 1497.3 L1796.8 1484.4 L1801.0 1476.9 L1805.8 1482.7 L1807.5 1492.5 L1814.0 1499.0 L1820.5 1501.6 L1830.2 1500.6 L1831.8 1490.8 L1835.1 1499.0 L1844.8 1495.7 L1849.7 1481.1 L1857.8 1480.1 L1854.5 1489.9 L1867.5 1487.6 L1877.3 1485.3 L1887.0 1481.1 L1896.8 1480.5 L1904.9 1483.4 L1888.6 1487.6 L1901.6 1489.9 L1913.0 1492.5 L1922.7 1497.3 L1932.5 1488.6 L1929.9 1498.3 L1939.0 1505.5 L1947.1 1511.9 L1951.9 1523.3 L1958.4 1523.3 L1971.4 1520.1 L1981.2 1515.2 L1990.9 1507.1 L2000.6 1502.2 L2003.2 1494.1 L2018.5 1488.6 L2038.0 1495.1 L2049.4 1505.5 L2059.1 1513.6 L2068.8 1523.3 L2081.8 1529.8 L2094.8 1537.9 L2104.5 1546.0 L2107.8 1554.2 L2110.4 1576.9 L2108.4 1593.1 L2106.2 1609.4 L2107.1 1619.1 L2112.7 1625.6 L2119.2 1624.0 L2120.8 1615.8 L2114.3 1610.0 L2124.0 1612.6 L2130.5 1615.8 L2127.3 1625.6 L2122.4 1636.9 L2117.5 1641.8 L2125.6 1648.3 L2133.8 1659.7 L2141.9 1669.4 L2150.0 1675.9 L2156.5 1674.3 L2153.2 1667.8 L2161.4 1666.2 L2161.4 1680.8 L2158.1 1692.1 L2163.0 1700.3 L2174.4 1684.0 L2171.1 1693.8 L2171.1 1701.9 L2177.6 1700.3 L2182.5 1714.9 L2192.2 1726.2 L2200.0 1729.5 M1420.1 1557.4 L1424.4 1572.0 L1430.8 1580.1 L1439.0 1567.1 L1447.1 1567.1 L1437.3 1565.5 L1438.3 1555.8 L1430.8 1554.8 L1427.6 1557.4 M1763.6 1508.7 L1773.4 1511.3 M1786.4 1508.1 L1799.4 1504.8 M1804.2 1505.5 L1818.8 1502.2 M1757.1 1520.1 L1761.0 1533.1 L1755.5 1546.0 M1964.9 1526.6 L1974.7 1523.3 L1984.4 1516.8 M1586.7 1559.0 L1594.8 1556.8 L1601.3 1562.3 L1598.1 1567.1 L1589.9 1563.9 M2194.2 1515.2 L2199.0 1523.3 L2208.8 1536.3 L2218.5 1546.0 L2228.2 1555.8 L2225.0 1567.1 L2229.9 1580.1 L2239.6 1594.7 L2249.4 1611.0 L2260.7 1628.8 L2268.8 1641.8 L2275.3 1658.1 L2278.6 1674.3 L2280.2 1693.8 L2281.2 1716.5 L2276.9 1726.2 L2273.7 1739.2 L2275.3 1750.6 L2270.5 1758.7 L2264.0 1766.8 L2255.8 1763.6 L2247.7 1770.1 L2236.4 1773.3 L2229.9 1771.7 L2228.2 1763.6 L2233.1 1758.7 L2241.2 1763.6 L2233.1 1757.1 L2225.0 1749.0 L2218.5 1739.2 L2212.0 1731.1 L2200.6 1729.5 L2189.3 1726.2 L2181.2 1716.5 L2176.3 1705.1 L2171.4 1697.0 L2166.6 1701.9 L2160.1 1700.3 L2156.8 1695.4 L2160.1 1687.3 L2161.7 1674.3 L2160.1 1667.8 L2153.6 1669.4 L2150.3 1675.9 L2142.2 1671.0 L2134.1 1661.3 L2126.0 1651.6 L2116.2 1640.2 L2122.7 1635.3 L2127.6 1625.6 L2130.8 1615.8 L2124.4 1612.6 L2116.2 1609.4 L2119.5 1615.8 L2124.4 1622.3 L2114.6 1627.2 L2106.5 1620.7 L2108.1 1599.6 L2109.7 1580.1 L2106.5 1557.4 L2100.0 1544.4 M2207.1 1542.8 L2213.6 1557.4 L2223.4 1572.0 L2236.4 1593.1 L2249.4 1612.6 L2262.3 1632.1 M2280.2 1752.2 L2275.3 1765.2 L2268.8 1776.6 L2262.3 1784.7 M2255.8 1789.5 L2249.4 1792.8 M2244.5 1797.7 L2236.4 1800.9 M2225.0 1804.2 L2220.1 1802.5 L2221.8 1807.4 M2213.6 1809.0 L2208.8 1812.3 M2203.9 1815.5 L2197.4 1818.8 M2106.5 1947.0 L2113.0 1941.2 L2132.5 1932.4 L2164.9 1922.7 L2181.2 1912.9 L2197.4 1908.1 L2229.9 1906.4 L2246.1 1900.9 L2252.6 1906.4 L2268.8 1901.6 L2285.1 1897.7 L2294.8 1903.2 L2304.5 1904.8 L2320.8 1901.6 L2333.8 1906.4 L2350.0 1911.3 L2359.7 1921.0 L2376.0 1927.5 L2392.2 1924.3 L2405.2 1921.0 L2424.7 1925.9 L2444.2 1932.4 L2460.4 1938.9 L2473.4 1941.2 L2489.6 1947.0 M1955.8 192.7 L1968.2 179.7 M1992.5 179.7 L2007.1 194.4 L2017.9 202.5 M238.4 178.9 L250.0 189.2 L262.5 201.2 L271.4 208.4 L277.7 213.8 L280.8 214.6 L283.9 212.0 L287.9 213.3 L290.2 215.5 L291.1 205.7 L289.7 178.9 M318.8 179.4 L319.2 181.6 L321.0 186.1 L321.9 190.5 L321.4 195.9 L322.3 202.1 L326.8 203.9 L326.3 209.3 L324.6 214.6 L322.8 220.9 L317.9 221.8 L315.2 220.9 L316.1 224.5 L320.5 227.1 L322.8 232.5 L321.9 237.0 L318.8 239.6 L321.4 241.4 L322.8 247.7 L324.1 252.1 L322.3 254.8 L317.9 259.3 L313.4 263.8 L312.5 268.2 L310.3 272.7 L309.8 277.1 L308.5 283.4 L306.7 288.8 L302.7 291.4 L298.2 292.3 L293.8 295.9 L290.2 298.6 L286.2 299.5 L283.0 296.8 L278.6 295.4 L274.1 292.8 L277.7 288.8 L281.2 285.2 L285.7 284.3 L288.4 286.1 L291.1 288.8 L294.6 284.3 L298.2 278.9 L299.1 274.5 L297.3 270.0 L300.9 266.4 L304.5 263.8 L306.7 260.2 L300.0 263.8 L293.8 267.3 L287.5 270.0 L283.0 273.6 L280.8 276.2 L285.3 277.1 L283.9 279.4 L278.6 280.3 L274.1 278.9 L274.6 275.4 L277.7 270.9 L282.1 266.9 L287.5 262.9 L292.0 259.7 L296.0 257.1 L299.1 258.4 L302.7 254.8 L304.5 251.2 L303.6 245.9 L304.0 240.5 L298.2 240.5 L294.6 239.6 L292.4 236.1 L291.1 232.5 L285.7 232.9 L280.4 230.7 L274.1 227.6 L267.9 224.5 L261.6 221.8 L255.4 217.3 L251.8 212.9 L246.4 207.5 L241.1 201.7 L235.7 197.2 L234.4 203.9 L231.2 210.2 L229.0 216.4 L228.6 223.6 L231.2 230.7 L233.5 236.1 L233.2 243.2 L231.2 250.4 L229.9 259.3 L230.4 268.2 L228.6 277.1 L226.8 282.5 L226.8 287.0 L231.2 283.4 L234.8 287.0 L239.3 291.0 L231.2 292.3 L225.9 293.2 L224.6 299.5 L226.8 303.0"/>

<path fill="none" stroke="#000" stroke-width="4.4" stroke-linejoin="round" stroke-linecap="round" d="M2672.5 236.2 L2675.2 241.8 L2677.3 247.3 L2676.6 252.8 L2682.1 256.2 L2687.7 259.7 L2691.8 264.5 L2694.6 259.7 L2700.1 258.3 L2709.7 257.2 L2718.0 258.3 L2726.3 254.9 L2737.3 248.0 L2748.4 241.8 L2756.7 238.3 L2763.6 238.3 L2764.2 241.1 L2760.8 245.9 L2756.7 252.8 L2752.5 258.3 L2748.4 261.8 L2751.1 266.6 L2756.7 270.7 L2756.7 273.5 L2751.1 276.9 L2744.2 279.0 L2738.7 276.3 L2737.3 271.4 L2734.6 268.0 L2731.8 270.7 L2734.6 276.3 L2731.8 277.6 L2727.7 272.1 L2729.1 265.2 L2726.3 263.8 L2722.2 269.4 L2719.4 274.9 L2712.5 277.6 L2705.6 278.3 L2700.1 275.6 L2697.3 270.7 L2693.2 269.4 L2687.7 272.8 L2682.1 274.2 L2679.4 269.4 L2678.0 265.2 L2672.5 263.8 L2665.6 266.6 L2664.9 259.7 L2667.0 251.4 L2669.0 243.1Z M2377.6 752.6 L2385.7 742.9 L2393.8 733.1 L2408.4 725.0 L2424.7 716.9 L2437.7 712.0 L2449.0 703.9 L2452.3 697.4 L2442.5 710.4 L2453.9 703.9 L2470.1 696.8 L2457.1 707.1 L2444.2 718.5 L2431.2 728.2 L2418.2 738.0 L2405.2 742.9 L2392.2 749.4 L2382.5 752.6Z M407.5 1453.7 L414.0 1456.0 L418.8 1465.1 L418.8 1473.2 L426.0 1476.4 L425.3 1492.7 L417.2 1481.3 L410.7 1471.6 L405.8 1461.8Z M456.2 1510.5 L464.3 1491.0 L475.6 1489.4 L477.3 1504.0 L472.4 1517.0 L461.0 1517.0Z M290.6 1521.7 L298.1 1515.2 L298.7 1508.7 L303.6 1508.1 L304.5 1520.1 L300.3 1528.2Z M344.2 1547.7 L353.9 1549.3 L352.3 1557.4 L357.1 1565.5 L349.0 1563.2 L344.2 1555.8Z M488.6 1713.2 L493.5 1701.9 L500.0 1700.9 L495.1 1710.0Z M509.7 1768.4 L516.2 1771.7 L517.9 1781.4 L513.0 1779.8Z M547.1 1823.6 L551.9 1835.0 L548.7 1836.6 L546.4 1828.5Z M412.3 1766.8 L428.6 1737.6 L430.2 1742.5 L420.5 1768.4Z M422.1 1784.7 L435.1 1787.9 L443.2 1800.9 L438.3 1800.9Z M2333.8 1651.6 L2346.8 1654.8 L2356.5 1646.7 L2354.9 1640.2 L2366.2 1643.4 L2382.5 1640.2 L2393.8 1635.3 L2395.5 1640.2 L2379.2 1646.7 L2363.0 1654.8 L2351.6 1661.9 L2341.9 1658.1Z M2389.0 1625.6 L2398.7 1620.7 L2413.3 1620.7 L2424.7 1628.8 L2437.7 1635.3 L2447.4 1641.8 L2450.0 1649.9 L2444.2 1659.7 L2445.8 1671.0 L2446.8 1680.8 L2440.9 1679.2 L2432.8 1674.3 L2439.3 1667.8 L2440.9 1654.8 L2437.7 1641.8 L2427.9 1635.3 L2416.6 1627.2 L2401.9 1625.6Z M2398.7 1736.0 L2408.4 1736.0 L2414.9 1742.5 L2424.7 1752.2 L2434.4 1763.6 L2437.0 1774.9 L2427.9 1784.7 L2421.4 1791.2 L2413.3 1783.1 L2401.9 1781.4 L2393.8 1774.9 L2401.9 1770.1 L2405.2 1757.1 L2401.9 1745.7Z M2424.7 1792.8 L2437.7 1786.3 L2449.0 1787.9 L2455.5 1800.9 L2458.8 1812.3 L2455.5 1820.4 L2444.2 1822.0 L2440.9 1812.3 L2432.8 1804.2Z M2476.6 1692.1 L2486.4 1698.6 L2502.6 1701.9 L2520.5 1711.6 L2522.1 1726.2 L2524.7 1744.1 L2518.8 1739.2 L2512.3 1734.4 L2518.8 1732.7 L2517.2 1718.1 L2502.6 1708.4 L2486.4 1703.5 L2476.6 1703.5Z M2548.1 1732.7 L2561.0 1744.1 L2572.4 1753.8 L2582.1 1761.9 L2570.8 1765.2 L2570.8 1760.3 L2557.8 1747.3 L2548.1 1737.6Z M2587.0 1791.2 L2600.0 1804.2 L2609.7 1818.8 L2622.7 1825.3 L2629.2 1835.0 L2617.9 1826.9 L2601.6 1822.0 L2606.5 1817.1 L2595.1 1804.2 L2587.0 1794.4Z M2546.4 1802.5 L2561.0 1805.8 L2572.4 1810.6 L2567.5 1813.9 L2554.5 1810.6 L2546.4 1807.4Z M2658.4 1828.5 L2671.4 1831.8 L2681.2 1831.8 L2689.3 1826.9 L2694.2 1839.9 L2687.7 1854.5 L2679.5 1864.2 L2673.1 1870.7 L2676.3 1862.6 L2684.4 1851.2 L2687.7 1839.9 L2677.9 1836.6 L2664.9 1836.6Z M2733.1 1835.0 L2749.4 1832.7 L2760.7 1835.0 L2759.1 1839.9 L2746.1 1838.2 L2734.7 1839.9Z M2625.3 1752.2 L2630.8 1749.9 L2632.5 1757.1 L2629.2 1763.6 L2626.0 1760.3Z M2437.7 1736.0 L2449.0 1731.1 L2455.5 1734.4 L2444.2 1739.9Z M2755.8 1891.8 L2762.3 1886.9 L2766.2 1890.2 L2760.7 1896.7Z M2791.6 1859.4 L2804.5 1857.7 L2801.3 1864.2 L2793.2 1864.2Z M2811.0 1844.7 L2822.4 1846.4 L2822.4 1852.9 L2812.7 1849.6Z M2726.6 1929.2 L2738.0 1921.0 L2751.0 1919.4 L2759.1 1911.3 L2760.7 1904.8 L2764.9 1906.4 L2765.6 1917.8 L2760.7 1929.2 L2746.1 1935.6 L2729.9 1938.9Z M2405.2 1909.7 L2424.7 1906.4 L2437.7 1912.9 L2457.1 1921.0 L2466.9 1927.5 L2478.2 1927.5 L2476.6 1937.3 L2463.6 1932.4 L2447.4 1922.7 L2431.2 1914.5 L2411.7 1913.9Z M2346.8 1903.2 L2359.7 1908.1 L2367.9 1911.9 L2356.5 1909.7Z"/>

<path fill="#000" stroke="#000" stroke-width="3" stroke-linejoin="round" d="M2610.4 408.0 L2614.5 407.3 L2617.0 413.5 L2615.2 419.0 L2611.5 421.1 L2609.7 414.9Z M2741.5 181.7 L2748.4 183.8 L2753.2 189.3 L2751.8 194.1 L2745.6 196.2 L2742.9 192.1 L2742.2 186.6Z M2820.5 241.8 L2813.2 247.3 L2810.5 251.4 L2816.0 254.2 L2817.4 259.7 L2820.5 263.8Z M2509.7 664.9 L2517.2 660.1 L2524.7 661.0 L2518.8 666.6 L2512.3 668.2Z M2536.7 660.1 L2548.1 654.5 L2551.3 660.1 L2544.8 662.3Z M129.9 1088.4 L134.7 1086.8 L138.0 1091.7 L142.9 1093.3 L151.0 1096.6 L149.4 1101.4 L142.9 1102.1 L139.0 1096.6 L133.1 1092.3Z M157.5 1094.9 L165.6 1098.2 L175.3 1101.4 L174.7 1105.6 L165.6 1104.7 L159.1 1099.8Z M158.1 1146.9 L165.6 1148.5 L166.2 1155.0 L159.7 1153.4Z M211.7 1150.8 L220.8 1156.6 L224.0 1164.7 L217.5 1163.1 L214.3 1158.2Z M202.9 1177.7 L207.8 1177.7 L212.7 1192.3 L207.8 1194.0 L204.5 1185.8Z M142.9 1411.5 L150.0 1410.5 L152.6 1419.6 L150.0 1429.4 L145.5 1431.0Z M305.4 204.8 L309.8 202.1 L315.2 204.8 L317.0 209.3 L312.5 211.1 L307.1 209.3Z M297.3 205.7 L301.8 206.6 L303.6 212.0 L300.0 212.9 L296.4 210.2Z M302.7 212.9 L309.8 212.9 L310.7 220.0 L307.1 222.7 L303.6 218.2Z M309.8 230.7 L315.2 227.1 L319.6 228.9 L320.5 234.3 L316.1 236.1 L310.7 235.2Z M311.6 241.4 L317.9 241.4 L320.5 249.5 L317.9 253.9 L313.8 254.8 L311.2 248.6Z M298.2 268.2 L305.4 264.6 L307.1 272.7 L303.6 277.1 L299.1 273.6Z M277.7 285.2 L285.7 282.9 L292.0 286.1 L290.2 290.5 L283.9 293.2 L276.8 291.4Z M299.1 279.8 L305.4 281.6 L303.6 288.8 L299.1 290.5 L297.3 285.2Z M283.9 180.7 L290.2 180.7 L290.2 203.9 L285.7 203.9Z M290.2 180.7 L298.2 181.6 L299.1 187.9 L293.8 193.2 L290.2 192.3Z M308.9 180.7 L317.9 181.6 L318.8 187.0 L311.6 187.9Z"/>

</g>
<rect x="30.5" y="178.4" width="2790.1" height="1763.0" fill="none" stroke="#000" stroke-width="2.9"/>
<rect x="2994.3" y="1597.59" width="74.2" height="135.01" fill="#053061"/>
<rect x="2994.3" y="1463.18" width="74.2" height="135.01" fill="#256baf"/>
<rect x="2994.3" y="1328.77" width="74.2" height="135.01" fill="#559ec9"/>
<rect x="2994.3" y="1194.36" width="74.2" height="135.01" fill="#a7d0e4"/>
<rect x="2994.3" y="1059.95" width="74.2" height="135.01" fill="#e2edf3"/>
<rect x="2994.3" y="925.54" width="74.2" height="135.01" fill="#fae7dc"/>
<rect x="2994.3" y="791.13" width="74.2" height="135.01" fill="#f7b799"/>
<rect x="2994.3" y="656.72" width="74.2" height="135.01" fill="#dd6f59"/>
<rect x="2994.3" y="522.31" width="74.2" height="135.01" fill="#b6202f"/>
<rect x="2994.3" y="387.90" width="74.2" height="135.01" fill="#67001f"/>
<path d="M2994.3 388.7 L3031.4 320.2 L3068.5 388.7 Z" fill="#67001f"/>
<path d="M2994.3 1731.8 L3031.4 1800.3 L3068.5 1731.8 Z" fill="#053061"/>
<path d="M2994.3 388.2 L3031.4 320.2 L3068.5 388.2 L3068.5 1732.3 L3031.4 1800.3 L2994.3 1732.3 Z" fill="none" stroke="#000" stroke-width="2.9" stroke-linejoin="miter"/>
<path d="M3069.5 1732.30 H3083.0" stroke="#000" stroke-width="2.9"/>
<text x="3099" y="1747.5" font-size="44" textLength="64" lengthAdjust="spacingAndGlyphs">0.0</text>
<path d="M3069.5 1597.89 H3083.0" stroke="#000" stroke-width="2.9"/>
<text x="3099" y="1613.1" font-size="44" textLength="64" lengthAdjust="spacingAndGlyphs">0.1</text>
<path d="M3069.5 1463.48 H3083.0" stroke="#000" stroke-width="2.9"/>
<text x="3099" y="1478.7" font-size="44" textLength="64" lengthAdjust="spacingAndGlyphs">0.2</text>
<path d="M3069.5 1329.07 H3083.0" stroke="#000" stroke-width="2.9"/>
<text x="3099" y="1344.3" font-size="44" textLength="64" lengthAdjust="spacingAndGlyphs">0.3</text>
<path d="M3069.5 1194.66 H3083.0" stroke="#000" stroke-width="2.9"/>
<text x="3099" y="1209.9" font-size="44" textLength="64" lengthAdjust="spacingAndGlyphs">0.4</text>
<path d="M3069.5 1060.25 H3083.0" stroke="#000" stroke-width="2.9"/>
<text x="3099" y="1075.5" font-size="44" textLength="64" lengthAdjust="spacingAndGlyphs">0.5</text>
<path d="M3069.5 925.84 H3083.0" stroke="#000" stroke-width="2.9"/>
<text x="3099" y="941.0" font-size="44" textLength="64" lengthAdjust="spacingAndGlyphs">0.6</text>
<path d="M3069.5 791.43 H3083.0" stroke="#000" stroke-width="2.9"/>
<text x="3099" y="806.6" font-size="44" textLength="64" lengthAdjust="spacingAndGlyphs">0.7</text>
<path d="M3069.5 657.02 H3083.0" stroke="#000" stroke-width="2.9"/>
<text x="3099" y="672.2" font-size="44" textLength="64" lengthAdjust="spacingAndGlyphs">0.8</text>
<path d="M3069.5 522.61 H3083.0" stroke="#000" stroke-width="2.9"/>
<text x="3099" y="537.8" font-size="44" textLength="64" lengthAdjust="spacingAndGlyphs">0.9</text>
<path d="M3069.5 388.20 H3083.0" stroke="#000" stroke-width="2.9"/>
<text x="3099" y="403.4" font-size="44" textLength="64" lengthAdjust="spacingAndGlyphs">1.0</text>
<text transform="translate(3211,1060.5) rotate(-90)" text-anchor="middle" font-size="44" textLength="164" lengthAdjust="spacingAndGlyphs">Hit Rate</text>
<text x="1424.5" y="80.5" text-anchor="middle" font-size="66.5" textLength="1051" lengthAdjust="spacingAndGlyphs">Hit Rate (Above Normal): CWRF</text>
<text x="1424.5" y="154" text-anchor="middle" font-size="66.5" textLength="1407" lengthAdjust="spacingAndGlyphs">Variable: T2MIN, Season: ASO, Start: 0516</text>
</svg>
</body></html>
